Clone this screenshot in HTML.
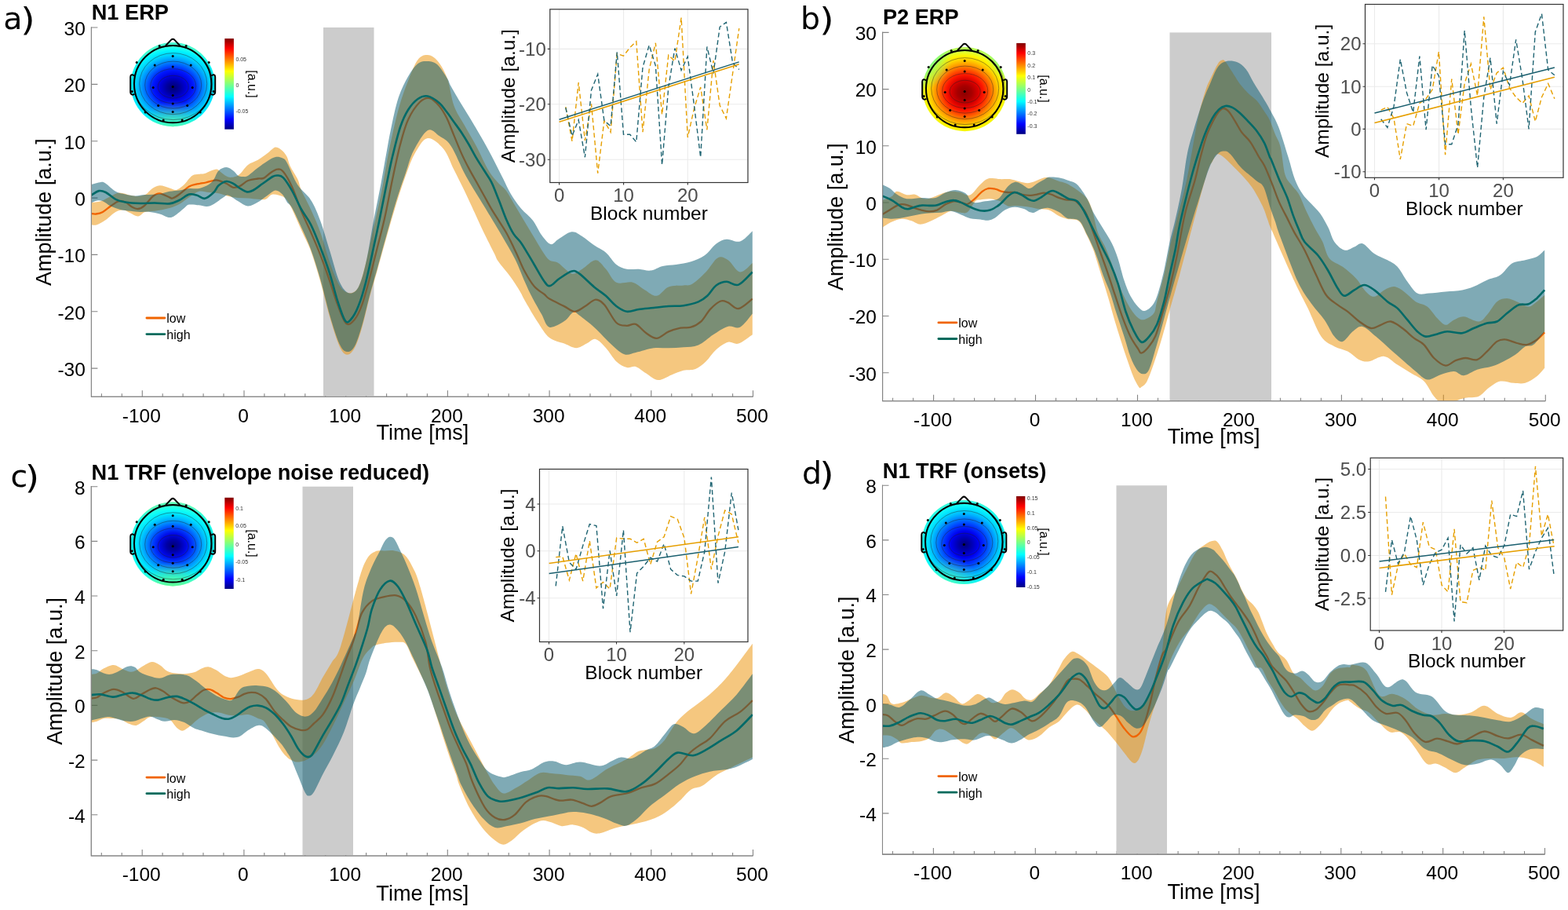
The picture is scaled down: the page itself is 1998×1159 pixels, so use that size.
<!DOCTYPE html><html><head><meta charset="utf-8"><title>ERP/TRF figure</title><style>html,body{margin:0;padding:0;background:#fff;}svg{display:block;}</style></head><body>
<svg width="1998" height="1159" viewBox="0 0 1998 1159" font-family='"Liberation Sans", Arial, Helvetica, sans-serif'>
<defs>
<linearGradient id="jet" x1="0" y1="0" x2="0" y2="1"><stop offset="0" stop-color="#800000"/><stop offset="0.11" stop-color="#ff0000"/><stop offset="0.36" stop-color="#ffff00"/><stop offset="0.5" stop-color="#80ff80"/><stop offset="0.64" stop-color="#00ffff"/><stop offset="0.89" stop-color="#0000ff"/><stop offset="1" stop-color="#000080"/></linearGradient>
<radialGradient id="tga" gradientUnits="userSpaceOnUse" cx="220.7" cy="111.6" r="56" gradientTransform="translate(220.7 111.6) scale(1.10 0.95) translate(-220.7 -111.6)"><stop offset="0" stop-color="#000070"/><stop offset="0.14" stop-color="#0000a0"/><stop offset="0.28" stop-color="#0000dc"/><stop offset="0.42" stop-color="#0018ff"/><stop offset="0.55" stop-color="#0060ff"/><stop offset="0.67" stop-color="#00a0ff"/><stop offset="0.78" stop-color="#00d4ff"/><stop offset="0.88" stop-color="#00f4ff"/><stop offset="0.95" stop-color="#20ffee"/><stop offset="1" stop-color="#48ffd0"/></radialGradient>
<radialGradient id="ova" gradientUnits="userSpaceOnUse" cx="220.2" cy="169.6" r="42"><stop offset="0" stop-color="#70ff90" stop-opacity="0.75"/><stop offset="0.5" stop-color="#70ff90" stop-opacity="0.45"/><stop offset="1" stop-color="#70ff90" stop-opacity="0"/></radialGradient>
<clipPath id="cpa"><circle cx="220.2" cy="107.6" r="53.6"/></clipPath>
<radialGradient id="tgb" gradientUnits="userSpaceOnUse" cx="1229.2" cy="118.1" r="56" gradientTransform="translate(1229.2 118.1) scale(1.03 0.98) translate(-1229.2 -118.1)"><stop offset="0" stop-color="#8c0000"/><stop offset="0.16" stop-color="#a80000"/><stop offset="0.3" stop-color="#d80000"/><stop offset="0.42" stop-color="#ff1800"/><stop offset="0.54" stop-color="#ff5800"/><stop offset="0.65" stop-color="#ff9800"/><stop offset="0.76" stop-color="#ffd000"/><stop offset="0.86" stop-color="#fff400"/><stop offset="0.94" stop-color="#e0ff30"/><stop offset="1" stop-color="#b8ff58"/></radialGradient>
<radialGradient id="ovb" gradientUnits="userSpaceOnUse" cx="1171.2" cy="73.6" r="42"><stop offset="0" stop-color="#60ff98" stop-opacity="0.90"/><stop offset="0.5" stop-color="#60ff98" stop-opacity="0.54"/><stop offset="1" stop-color="#60ff98" stop-opacity="0"/></radialGradient>
<clipPath id="cpb"><circle cx="1229.2" cy="113.6" r="53.6"/></clipPath>
<radialGradient id="tgc" gradientUnits="userSpaceOnUse" cx="220.7" cy="694.8" r="56" gradientTransform="translate(220.7 694.8) scale(1.10 0.95) translate(-220.7 -694.8)"><stop offset="0" stop-color="#000078"/><stop offset="0.14" stop-color="#0000a8"/><stop offset="0.28" stop-color="#0008e8"/><stop offset="0.42" stop-color="#0040ff"/><stop offset="0.55" stop-color="#0088ff"/><stop offset="0.66" stop-color="#00c0ff"/><stop offset="0.76" stop-color="#00e8ff"/><stop offset="0.86" stop-color="#10fff4"/><stop offset="0.95" stop-color="#38ffd8"/><stop offset="1" stop-color="#60ffb8"/></radialGradient>
<radialGradient id="ovc" gradientUnits="userSpaceOnUse" cx="220.2" cy="756.8" r="42"><stop offset="0" stop-color="#70ff80" stop-opacity="0.90"/><stop offset="0.5" stop-color="#70ff80" stop-opacity="0.54"/><stop offset="1" stop-color="#70ff80" stop-opacity="0"/></radialGradient>
<clipPath id="cpc"><circle cx="220.2" cy="692.8" r="53.6"/></clipPath>
<radialGradient id="tgd" gradientUnits="userSpaceOnUse" cx="1229.3" cy="693.5" r="56" gradientTransform="translate(1229.3 693.5) scale(1.05 1.00) translate(-1229.3 -693.5)"><stop offset="0" stop-color="#000078"/><stop offset="0.15" stop-color="#0000b0"/><stop offset="0.3" stop-color="#0000f0"/><stop offset="0.45" stop-color="#0038ff"/><stop offset="0.58" stop-color="#0078ff"/><stop offset="0.7" stop-color="#00b8ff"/><stop offset="0.8" stop-color="#00e0ff"/><stop offset="0.9" stop-color="#10fcf8"/><stop offset="1" stop-color="#40ffd8"/></radialGradient>
<radialGradient id="ovd" gradientUnits="userSpaceOnUse" cx="1208.3" cy="750.5" r="42"><stop offset="0" stop-color="#70ff98" stop-opacity="0.60"/><stop offset="0.5" stop-color="#70ff98" stop-opacity="0.36"/><stop offset="1" stop-color="#70ff98" stop-opacity="0"/></radialGradient>
<clipPath id="cpd"><circle cx="1228.3" cy="690.5" r="53.6"/></clipPath>
<radialGradient id="ovb2" gradientUnits="userSpaceOnUse" cx="1287.2" cy="73.6" r="30"><stop offset="0" stop-color="#60ff98" stop-opacity="0.9"/><stop offset="1" stop-color="#60ff98" stop-opacity="0"/></radialGradient>
</defs>
<rect width="1998" height="1159" fill="#fff"/>
<path d="M116.4,34.4V505.3H959.5" fill="none" stroke="#858585" stroke-width="1.05"/>
<text x="108.8" y="478.9" text-anchor="end" font-size="24.5">-30</text>
<text x="108.8" y="406.6" text-anchor="end" font-size="24.5">-20</text>
<text x="108.8" y="334.2" text-anchor="end" font-size="24.5">-10</text>
<text x="108.8" y="261.9" text-anchor="end" font-size="24.5">0</text>
<text x="108.8" y="189.5" text-anchor="end" font-size="24.5">10</text>
<text x="108.8" y="117.2" text-anchor="end" font-size="24.5">20</text>
<text x="108.8" y="44.8" text-anchor="end" font-size="24.5">30</text>
<text x="180.3" y="537.5" text-anchor="middle" font-size="24.5">-100</text>
<text x="310.0" y="537.5" text-anchor="middle" font-size="24.5">0</text>
<text x="439.7" y="537.5" text-anchor="middle" font-size="24.5">100</text>
<text x="569.4" y="537.5" text-anchor="middle" font-size="24.5">200</text>
<text x="699.1" y="537.5" text-anchor="middle" font-size="24.5">300</text>
<text x="828.8" y="537.5" text-anchor="middle" font-size="24.5">400</text>
<text x="958.5" y="537.5" text-anchor="middle" font-size="24.5">500</text>
<path d="M116.4,469.1h8M116.4,396.8h8M116.4,324.4h8M116.4,252.1h8M116.4,179.7h8M116.4,107.4h8M116.4,35.0h8M129.4,505.3v-4M155.3,505.3v-4M181.3,505.3v-8M207.2,505.3v-4M233.1,505.3v-4M259.1,505.3v-4M285.0,505.3v-4M311.0,505.3v-8M336.9,505.3v-4M362.8,505.3v-4M388.8,505.3v-4M414.7,505.3v-4M440.7,505.3v-8M466.6,505.3v-4M492.6,505.3v-4M518.5,505.3v-4M544.4,505.3v-4M570.4,505.3v-8M596.3,505.3v-4M622.3,505.3v-4M648.2,505.3v-4M674.1,505.3v-4M700.1,505.3v-8M726.0,505.3v-4M752.0,505.3v-4M777.9,505.3v-4M803.9,505.3v-4M829.8,505.3v-8M855.7,505.3v-4M881.7,505.3v-4M907.6,505.3v-4M933.6,505.3v-4M959.5,505.3v-8" stroke="#858585" stroke-width="1.1"/>
<rect x="412.0" y="35.0" width="64.5" height="469.5" fill="#cccccc"/>
<clipPath id="axa"><rect x="116.4" y="33.0" width="843.1" height="472.3"/></clipPath><g clip-path="url(#axa)">
<path d="M116.0,258.1C118.1,257.8 124.3,257.7 128.5,256.3C132.7,255.0 137.0,251.8 141.0,250.0C145.0,248.2 148.1,245.8 152.3,245.6C156.5,245.4 162.1,248.1 166.0,248.8C169.9,249.5 172.7,250.2 176.0,250.0C179.3,249.8 183.1,249.1 186.0,247.5C188.9,245.9 190.6,242.5 193.5,240.6C196.4,238.7 199.8,236.5 203.5,236.3C207.2,236.1 212.4,238.5 216.0,239.4C219.6,240.3 221.7,242.6 224.8,241.9C227.9,241.2 232.1,237.4 234.8,235.0C237.5,232.6 238.9,229.6 241.0,227.5C243.1,225.4 244.2,223.5 247.3,222.5C250.4,221.5 256.7,221.9 259.8,221.3C262.9,220.7 263.3,219.8 266.0,218.8C268.7,217.9 273.3,215.4 276.0,215.6C278.7,215.8 279.8,218.3 282.3,220.0C284.8,221.7 288.1,224.8 291.0,225.6C293.9,226.4 297.3,225.7 299.8,225.0C302.3,224.3 303.3,223.8 306.0,221.3C308.7,218.8 312.2,212.9 316.0,210.0C319.8,207.1 324.3,206.3 328.5,203.8C332.7,201.3 337.2,197.7 341.0,195.0C344.8,192.3 347.9,188.0 351.0,187.5C354.1,187.0 357.3,189.8 359.8,191.9C362.3,194.0 364.2,196.8 365.8,200.0C367.4,203.2 367.4,206.7 369.7,211.4C371.9,216.1 376.9,223.1 379.3,228.3C381.7,233.5 381.4,236.4 384.2,242.8C387.0,249.2 392.2,258.1 396.2,267.0C400.2,275.9 404.3,284.7 408.3,296.0C412.3,307.3 416.4,323.3 420.4,334.6C424.4,345.9 428.5,357.2 432.5,363.6C436.5,370.0 440.5,372.8 444.5,373.2C448.5,373.6 453.0,372.4 456.6,366.0C460.2,359.6 463.1,347.3 466.3,334.6C469.5,321.9 472.7,304.9 476.0,290.0C479.3,275.1 482.8,260.8 486.0,245.0C489.2,229.2 491.4,212.5 495.0,195.0C498.6,177.5 503.3,155.3 507.5,140.0C511.7,124.7 515.8,113.7 520.0,103.0C524.2,92.3 528.3,81.5 532.5,76.0C536.7,70.5 540.8,69.8 545.0,70.0C549.2,70.2 553.3,72.5 557.5,77.5C561.7,82.5 566.5,90.5 570.0,100.0C573.5,109.5 574.9,124.8 578.5,134.7C582.1,144.6 587.0,150.8 591.7,159.3C596.4,167.8 601.8,176.4 606.9,185.9C612.0,195.4 617.7,208.7 622.1,216.3C626.5,223.9 629.7,227.0 633.5,231.4C637.3,235.8 641.1,237.7 644.9,242.8C648.7,247.9 652.5,255.5 656.3,261.8C660.1,268.1 663.8,274.5 667.6,280.8C671.4,287.1 675.2,293.5 679.0,299.8C682.8,306.1 686.9,313.4 690.4,318.7C693.9,323.9 696.5,328.6 700.0,331.3C703.5,334.0 706.6,332.1 711.4,335.0C716.1,337.9 723.4,347.1 728.5,348.4C733.6,349.7 736.7,345.5 741.8,342.7C746.9,339.9 753.8,331.3 758.9,331.3C764.0,331.3 767.7,338.0 772.1,342.7C776.5,347.4 779.7,356.9 785.4,359.7C791.1,362.5 800.3,358.1 806.3,359.7C812.3,361.3 816.4,366.3 821.5,369.2C826.6,372.1 831.6,377.4 836.7,376.8C841.8,376.2 846.2,367.6 851.9,365.4C857.6,363.2 865.8,364.1 870.9,363.5C876.0,362.9 877.5,364.4 882.3,361.6C887.0,358.8 894.0,352.0 899.4,346.5C904.8,341.0 909.8,330.9 914.5,328.4C919.2,325.9 923.0,328.3 927.8,331.3C932.5,334.3 937.8,345.9 943.0,346.5C948.2,347.1 956.2,336.9 958.8,335.0L958.8,426.2C955.8,428.1 946.3,436.0 941.1,437.6C935.9,439.2 932.5,434.4 927.8,435.7C923.0,437.0 917.3,441.1 912.6,445.2C907.9,449.3 903.8,456.3 899.4,460.4C895.0,464.5 890.9,468.0 886.1,469.9C881.4,471.8 876.0,470.5 870.9,471.8C865.8,473.1 861.1,475.4 855.7,477.5C850.3,479.6 844.0,484.4 838.6,484.1C833.2,483.8 828.1,478.5 823.4,475.6C818.6,472.8 814.2,468.3 810.1,467.0C806.0,465.7 802.8,469.1 798.7,468.0C794.6,466.9 789.8,464.5 785.4,460.4C781.0,456.3 776.5,448.1 772.1,443.3C767.7,438.6 763.0,432.8 758.9,431.9C754.8,430.9 751.6,435.7 747.5,437.6C743.4,439.5 739.0,443.3 734.2,443.3C729.5,443.3 724.7,439.8 719.0,437.6C713.3,435.4 705.7,434.6 700.0,430.0C694.3,425.4 690.0,417.5 685.0,410.0C680.0,402.5 673.8,391.5 670.0,385.0C666.2,378.5 665.8,376.5 662.5,371.0C659.2,365.5 654.6,358.3 650.0,352.0C645.4,345.7 638.4,337.9 635.0,333.0C631.6,328.1 632.8,328.7 629.7,322.5C626.6,316.3 620.5,304.5 616.4,296.0C612.3,287.5 609.1,280.2 605.0,271.3C600.9,262.4 596.1,252.0 591.7,242.8C587.3,233.6 582.9,225.2 578.5,216.3C574.1,207.5 570.8,196.4 565.2,189.7C559.6,183.0 551.0,175.2 545.0,176.0C539.0,176.8 533.8,186.6 529.1,194.5C524.4,202.4 521.0,212.6 517.0,223.5C513.0,234.4 508.9,246.8 504.9,259.7C500.9,272.6 496.9,286.7 492.9,300.8C488.9,314.9 484.4,331.4 480.8,344.3C477.2,357.2 474.3,366.0 471.1,378.1C467.9,390.2 464.6,405.8 461.4,416.7C458.2,427.6 455.0,437.5 451.8,443.3C448.6,449.1 445.3,452.1 442.1,451.7C438.9,451.3 436.1,448.8 432.5,440.9C428.9,433.0 424.4,418.3 420.4,404.6C416.4,390.9 412.3,372.8 408.3,358.7C404.3,344.6 400.2,330.9 396.2,320.0C392.2,309.1 388.2,302.5 384.2,293.5C380.2,284.5 375.1,272.4 372.0,266.0C368.9,259.6 367.8,257.7 365.8,255.0C363.8,252.3 362.9,251.2 359.8,250.0C356.7,248.8 350.9,246.9 347.3,247.5C343.8,248.1 341.6,252.8 338.5,253.8C335.4,254.9 332.2,254.0 328.5,253.8C324.8,253.6 320.2,252.8 316.0,252.5C311.8,252.2 307.7,252.3 303.5,251.9C299.3,251.5 295.2,250.9 291.0,250.0C286.8,249.1 282.7,247.1 278.5,246.3C274.3,245.5 270.2,245.4 266.0,245.0C261.8,244.6 257.7,242.8 253.5,243.8C249.3,244.9 245.2,248.6 241.0,251.3C236.8,254.0 232.7,257.7 228.5,260.0C224.3,262.3 221.2,263.5 216.0,265.0C210.8,266.5 202.5,268.0 197.3,268.8C192.1,269.6 188.4,268.9 184.8,270.0C181.2,271.1 179.1,275.4 176.0,275.6C172.9,275.8 169.1,272.7 166.0,271.3C162.9,269.9 160.4,267.7 157.3,267.5C154.2,267.3 151.1,267.9 147.3,270.0C143.6,272.1 138.8,277.3 134.8,280.0C130.8,282.7 126.6,285.2 123.5,286.3C120.4,287.4 117.2,286.3 116.0,286.3Z" fill="rgb(235,143,0)" fill-opacity="0.5"/>
<path d="M116.0,271.9C117.0,272.0 119.8,272.8 122.3,272.5C124.8,272.2 127.9,271.7 131.0,270.0C134.1,268.3 137.7,264.8 141.0,262.5C144.3,260.2 147.9,257.1 151.0,256.3C154.1,255.5 156.9,256.2 159.8,257.5C162.7,258.8 165.8,262.4 168.5,263.8C171.2,265.2 173.3,266.4 176.0,266.0C178.7,265.6 181.7,264.0 184.8,261.3C187.9,258.6 191.7,252.5 194.8,250.0C197.9,247.5 200.0,246.1 203.5,246.3C207.0,246.5 213.3,250.3 216.0,251.3C218.7,252.3 217.7,253.1 219.8,252.5C221.9,251.9 225.0,250.0 228.5,247.5C232.0,245.0 237.2,239.7 241.0,237.5C244.8,235.3 247.4,235.2 251.0,234.4C254.6,233.6 258.8,233.3 262.3,232.5C265.9,231.7 269.6,230.2 272.3,229.8C275.0,229.4 275.8,229.1 278.5,229.8C281.2,230.5 285.4,232.3 288.5,233.8C291.6,235.3 294.4,238.3 297.3,238.8C300.2,239.3 302.9,238.4 306.0,236.9C309.1,235.4 312.2,231.6 316.0,230.0C319.8,228.4 325.2,228.0 328.5,227.5C331.8,227.0 333.3,228.2 336.0,226.9C338.7,225.7 341.9,221.9 344.8,220.0C347.7,218.1 350.8,215.8 353.5,215.6C356.2,215.4 357.9,215.1 361.0,218.8C364.1,222.5 368.2,229.6 372.1,238.0C376.0,246.4 380.2,259.7 384.2,269.4C388.2,279.1 392.2,286.8 396.2,296.0C400.2,305.2 404.3,314.4 408.3,324.9C412.3,335.3 416.8,348.2 420.4,358.7C424.0,369.2 426.6,378.8 430.0,387.7C433.4,396.6 437.3,408.7 440.9,411.9C444.5,415.1 448.4,411.0 451.8,407.0C455.2,403.0 458.2,396.6 461.4,387.7C464.6,378.8 467.9,366.0 471.1,353.9C474.3,341.8 477.6,328.2 480.8,315.3C484.0,302.4 487.2,291.1 490.4,276.6C493.6,262.1 496.9,243.6 500.1,228.3C503.3,213.0 506.5,197.4 509.8,184.8C513.1,172.2 515.8,161.6 520.0,152.5C524.2,143.4 530.4,134.6 535.0,130.0C539.6,125.4 543.4,124.2 547.5,125.0C551.6,125.8 555.9,130.6 559.5,134.7C563.1,138.8 565.8,143.5 569.0,149.8C572.2,156.1 575.3,165.0 578.5,172.6C581.7,180.2 584.9,188.4 588.0,195.4C591.1,202.4 594.2,208.4 597.4,214.4C600.5,220.4 603.7,225.7 606.9,231.4C610.1,237.1 613.2,242.8 616.4,248.5C619.6,254.2 622.7,260.2 625.9,265.6C629.1,271.0 632.2,275.7 635.4,280.8C638.6,285.9 641.7,290.3 644.9,296.0C648.1,301.7 651.9,309.7 654.4,314.9C656.9,320.1 657.6,321.8 660.0,327.0C662.4,332.2 665.2,339.7 668.8,346.0C672.2,352.3 676.8,360.2 681.0,365.0C685.2,369.8 690.6,372.4 693.8,375.0C696.9,377.6 695.8,378.1 700.0,380.6C704.2,383.1 713.6,387.4 719.0,390.1C724.4,392.8 727.9,396.8 732.3,396.8C736.7,396.8 741.2,392.6 745.6,390.1C750.0,387.6 754.8,381.9 758.9,381.6C763.0,381.3 765.8,383.3 770.2,388.2C774.6,393.1 780.6,406.6 785.4,411.0C790.1,415.4 794.6,414.5 798.7,414.8C802.8,415.1 806.0,411.3 810.1,412.9C814.2,414.5 819.0,421.3 823.4,424.3C827.8,427.3 832.0,431.2 836.7,430.9C841.5,430.6 846.8,424.6 851.9,422.4C857.0,420.2 862.4,418.6 867.1,417.6C871.9,416.7 876.0,418.1 880.4,416.7C884.8,415.3 889.6,412.9 893.7,409.1C897.8,405.3 900.9,398.2 905.0,393.9C909.1,389.6 914.5,384.9 918.3,383.5C922.1,382.1 924.0,383.8 927.8,385.4C931.6,387.0 935.9,393.8 941.1,393.0C946.3,392.2 955.8,382.7 958.8,380.6" fill="none" stroke="#f06400" stroke-width="2.3" stroke-linejoin="round"/>
<path d="M116.0,235.0C118.1,234.5 125.4,232.1 128.5,231.9C131.6,231.7 131.7,231.8 134.8,233.8C137.9,235.8 143.1,241.5 147.3,243.8C151.5,246.1 155.6,246.6 159.8,247.5C164.0,248.4 168.1,249.3 172.3,249.4C176.5,249.5 179.6,248.5 184.8,248.1C190.0,247.7 198.3,247.6 203.5,246.9C208.7,246.2 211.8,244.5 216.0,243.8C220.2,243.1 224.3,243.1 228.5,242.5C232.7,241.9 236.8,240.4 241.0,240.0C245.2,239.6 249.3,240.8 253.5,240.0C257.7,239.2 262.9,236.9 266.0,235.0C269.1,233.1 270.2,231.7 272.3,228.8C274.4,225.9 275.8,220.1 278.5,217.5C281.2,214.9 285.4,213.1 288.5,213.1C291.6,213.1 294.8,215.7 297.3,217.5C299.8,219.3 301.4,222.6 303.5,223.8C305.6,225.1 307.7,225.0 309.8,225.0C311.9,225.0 312.9,225.7 316.0,223.8C319.1,221.9 324.3,216.9 328.5,213.8C332.7,210.7 337.2,207.3 341.0,205.0C344.8,202.7 347.9,200.6 351.0,200.0C354.1,199.4 357.3,200.1 359.8,201.3C362.3,202.6 362.6,201.8 365.8,207.5C369.1,213.2 374.2,227.7 379.3,235.6C384.4,243.5 391.4,247.3 396.2,254.9C401.0,262.5 404.3,270.5 408.3,281.4C412.3,292.3 416.4,307.2 420.4,320.1C424.4,333.0 428.5,349.9 432.5,358.7C436.5,367.5 440.5,372.0 444.5,373.2C448.5,374.4 453.0,372.4 456.6,366.0C460.2,359.6 463.1,348.7 466.3,334.6C469.5,320.5 472.8,298.3 476.0,281.4C479.2,264.5 482.8,248.0 485.6,233.1C488.4,218.2 490.8,203.4 492.9,192.1C495.0,180.8 495.6,176.2 498.0,165.0C500.4,153.8 503.8,136.2 507.5,125.0C511.2,113.8 515.8,104.8 520.0,97.5C524.2,90.2 528.3,84.2 532.5,81.0C536.7,77.8 540.8,77.8 545.0,78.0C549.2,78.2 553.3,78.8 557.5,82.5C561.7,86.2 567.1,95.4 570.0,100.0C572.9,104.6 571.7,104.5 574.7,110.0C577.7,115.5 583.3,124.9 588.0,132.8C592.7,140.7 598.4,149.5 603.1,157.4C607.8,165.3 612.0,172.3 616.4,180.2C620.8,188.1 625.6,197.0 629.7,204.9C633.8,212.8 637.6,220.7 641.1,227.6C644.6,234.5 646.8,240.3 650.6,246.6C654.4,252.9 659.2,259.9 663.9,265.6C668.6,271.3 674.6,275.1 679.0,280.8C683.4,286.5 686.6,294.8 690.4,299.8C694.2,304.9 698.3,310.3 701.8,311.1C705.3,311.9 706.9,307.4 711.4,304.7C715.9,302.0 723.4,295.8 728.5,295.2C733.6,294.6 737.0,298.0 741.8,300.9C746.5,303.8 752.0,308.8 757.0,312.3C762.0,315.8 767.4,317.7 772.1,321.8C776.8,325.9 781.0,333.5 785.4,337.0C789.8,340.5 794.0,341.8 798.7,342.7C803.5,343.6 808.8,342.4 813.9,342.7C819.0,343.0 824.0,345.2 829.1,344.6C834.2,344.0 838.9,340.2 844.3,338.9C849.7,337.6 855.4,337.9 861.4,337.0C867.4,336.1 874.4,335.1 880.4,333.2C886.4,331.3 892.1,329.4 897.5,325.6C902.9,321.8 907.9,313.9 912.6,310.4C917.3,306.9 920.8,305.2 925.9,304.7C931.0,304.2 937.5,309.2 943.0,307.5C948.5,305.8 956.2,296.4 958.8,294.2L958.8,399.6C956.2,402.5 948.2,414.0 943.0,416.7C937.8,419.4 933.5,414.1 927.8,415.7C922.1,417.3 915.1,422.2 908.8,426.2C902.5,430.2 896.2,436.8 889.9,439.5C883.6,442.2 877.2,441.7 870.9,442.3C864.6,442.9 858.2,443.1 851.9,443.3C845.6,443.5 839.9,442.4 832.9,443.3C825.9,444.2 816.4,447.7 810.1,449.0C803.8,450.3 800.6,453.1 794.9,450.9C789.2,448.7 782.2,441.4 775.9,435.7C769.6,430.0 763.3,422.4 757.0,416.7C750.7,411.0 742.4,404.7 738.0,401.5C733.6,398.3 733.6,396.4 730.4,397.7C727.2,399.0 724.1,405.9 719.0,409.1C713.9,412.3 704.8,418.2 700.0,416.7C695.2,415.2 693.8,406.5 690.0,400.0C686.2,393.5 681.0,384.3 677.5,377.5C674.0,370.7 672.3,366.9 668.8,359.0C665.2,351.1 661.2,339.9 656.3,330.0C651.4,320.1 645.9,311.2 639.2,299.8C632.6,288.4 624.0,274.4 616.4,261.8C608.8,249.2 600.5,236.6 593.6,223.9C586.7,211.2 580.3,194.3 574.7,185.9C569.1,177.5 565.0,176.6 560.0,173.3C555.0,170.0 550.5,162.9 545.0,166.0C539.5,169.1 531.7,183.0 527.0,192.0C522.3,201.0 520.7,209.3 517.0,220.0C513.3,230.7 508.9,243.0 504.9,256.0C500.9,269.0 496.9,283.7 492.9,298.0C488.9,312.3 484.4,329.0 480.8,342.0C477.2,355.0 474.3,364.0 471.1,376.0C467.9,388.0 464.6,403.2 461.4,414.0C458.2,424.8 455.0,435.3 451.8,441.0C448.6,446.7 445.3,448.5 442.1,448.0C438.9,447.5 436.1,445.7 432.5,438.0C428.9,430.3 424.4,415.7 420.4,402.0C416.4,388.3 412.3,370.0 408.3,356.0C404.3,342.0 400.2,329.0 396.2,318.0C392.2,307.0 388.2,298.9 384.2,290.0C380.2,281.1 375.1,269.9 372.0,264.5C368.9,259.1 367.8,260.3 365.8,257.5C363.8,254.7 362.3,250.0 359.8,247.5C357.3,245.0 354.1,242.3 351.0,242.5C347.9,242.7 344.8,246.3 341.0,248.8C337.2,251.3 332.7,255.2 328.5,257.5C324.3,259.8 320.2,262.7 316.0,262.5C311.8,262.3 307.7,258.6 303.5,256.3C299.3,254.0 294.1,249.6 291.0,248.8C287.9,248.0 287.9,249.4 284.8,251.3C281.7,253.2 275.9,258.0 272.3,260.0C268.8,262.0 266.6,262.9 263.5,263.1C260.4,263.3 257.2,261.7 253.5,261.3C249.8,260.9 244.1,260.0 241.0,260.6C237.9,261.2 237.9,262.6 234.8,265.0C231.7,267.4 225.6,273.0 222.3,275.0C219.0,277.0 217.9,277.3 214.8,276.9C211.7,276.5 207.5,273.6 203.5,272.5C199.5,271.4 195.2,270.4 191.0,270.0C186.8,269.6 182.7,270.2 178.5,270.0C174.3,269.8 170.2,269.3 166.0,268.8C161.8,268.3 157.7,268.1 153.5,267.0C149.3,265.9 144.8,264.3 141.0,262.5C137.2,260.7 133.9,257.4 131.0,256.3C128.1,255.2 126.0,255.2 123.5,255.6C121.0,256.0 117.2,258.3 116.0,258.8Z" fill="rgb(0,85,107)" fill-opacity="0.5"/>
<path d="M116.0,248.8C117.7,247.9 122.9,243.7 126.0,243.1C129.1,242.5 131.2,243.2 134.8,245.0C138.4,246.8 143.1,251.7 147.3,253.8C151.5,255.9 154.6,256.6 159.8,257.5C165.0,258.4 172.2,258.8 178.5,259.0C184.8,259.2 191.1,258.4 197.3,258.5C203.6,258.6 210.8,260.0 216.0,259.4C221.2,258.8 224.3,257.0 228.5,255.0C232.7,253.0 237.2,248.5 241.0,247.5C244.8,246.5 247.7,247.9 251.0,248.8C254.3,249.7 257.4,253.4 261.0,252.8C264.6,252.2 269.4,247.8 272.3,245.0C275.2,242.2 275.8,238.6 278.5,236.3C281.2,234.0 285.4,231.4 288.5,231.0C291.6,230.6 294.4,232.3 297.3,233.8C300.2,235.3 303.1,238.2 306.0,240.0C308.9,241.8 312.1,244.0 314.8,244.4C317.5,244.8 319.0,244.3 322.3,242.5C325.6,240.7 330.6,236.7 334.8,233.8C339.0,230.9 344.2,226.7 347.3,225.0C350.4,223.3 351.2,223.3 353.5,223.5C355.8,223.7 357.9,223.1 361.0,226.3C364.1,229.5 368.2,236.0 372.1,242.8C376.0,249.6 380.2,259.8 384.2,267.0C388.2,274.2 392.2,278.2 396.2,286.3C400.2,294.4 404.3,304.8 408.3,315.3C412.3,325.8 416.8,337.8 420.4,349.1C424.0,360.4 426.8,373.0 430.0,382.9C433.2,392.8 436.9,404.3 439.7,408.3C442.5,412.3 444.2,410.0 447.0,407.0C449.8,404.0 453.4,398.2 456.6,390.1C459.8,382.1 463.1,371.2 466.3,358.7C469.5,346.2 473.2,328.2 476.0,315.3C478.8,302.4 480.4,295.1 483.2,281.4C486.0,267.7 490.1,246.8 492.9,233.1C495.7,219.4 497.2,211.2 500.1,199.3C503.0,187.5 506.7,171.9 510.0,162.0C513.3,152.1 516.2,146.0 520.0,140.0C523.8,134.0 528.3,128.9 532.5,126.0C536.7,123.1 540.5,121.7 545.0,122.5C549.5,123.3 555.5,127.6 559.5,130.9C563.5,134.2 565.8,138.2 569.0,142.3C572.2,146.4 575.3,151.1 578.5,155.5C581.7,159.9 584.9,164.1 588.0,168.8C591.1,173.6 594.2,178.6 597.4,184.0C600.5,189.4 603.7,195.7 606.9,201.1C610.1,206.5 613.2,211.2 616.4,216.3C619.6,221.4 622.7,225.1 625.9,231.4C629.1,237.7 632.2,246.3 635.4,254.2C638.6,262.1 641.7,271.6 644.9,278.9C648.1,286.2 651.2,292.8 654.4,297.9C657.6,302.9 660.8,304.8 663.9,309.2C667.0,313.6 670.4,319.7 673.3,324.4C676.1,329.1 677.6,331.8 681.0,337.5C684.4,343.2 690.4,354.3 693.8,358.8C697.1,363.2 697.9,364.6 701.0,364.0C704.1,363.4 707.9,358.1 712.5,355.0C717.1,351.9 724.2,346.6 728.5,345.5C732.8,344.4 733.2,345.1 738.0,348.4C742.8,351.7 751.3,360.7 757.0,365.4C762.7,370.1 767.3,372.7 772.0,376.8C776.7,380.9 780.9,386.7 785.4,390.0C789.9,393.3 794.0,396.1 798.7,396.8C803.5,397.5 808.2,394.8 813.9,394.0C819.6,393.2 826.6,392.7 832.9,392.0C839.2,391.3 845.6,390.5 851.9,390.0C858.2,389.5 864.6,390.1 870.9,389.2C877.2,388.3 884.8,386.5 889.9,384.4C895.0,382.3 897.5,380.3 901.3,376.8C905.1,373.3 908.5,366.5 912.6,363.5C916.7,360.5 921.1,358.9 925.9,358.8C930.6,358.7 935.6,364.7 941.1,362.6C946.6,360.6 955.8,349.2 958.8,346.5" fill="none" stroke="#006a68" stroke-width="2.6" stroke-linejoin="round"/>
</g>
<path d="M116.4,34.4V505.3H959.5" fill="none" stroke="#858585" stroke-width="1.05"/>
<text x="4.3" y="37.0" font-family="DejaVu Sans, sans-serif" font-size="39.5">a</text>
<text transform="translate(26.3,38.8) scale(1.15,1)" font-family="DejaVu Sans, sans-serif" font-size="41">)</text>
<text x="116.7" y="25.2" font-weight="bold" font-size="27.2">N1 ERP</text>
<text x="538.4" y="559.5" text-anchor="middle" font-size="27.1">Time [ms]</text>
<text transform="translate(65.3,270.1) rotate(-90)" text-anchor="middle" font-size="27">Amplitude [a.u.]</text>
<path d="M186.9,405.0h23" stroke="#f06400" stroke-width="2.8" stroke-linecap="round"/>
<path d="M186.9,425.6h23" stroke="#006a5c" stroke-width="2.8" stroke-linecap="round"/>
<text x="212.3" y="411.4" font-size="16">low</text>
<text x="212.3" y="432.0" font-size="16">high</text>
<circle cx="220.2" cy="107.6" r="53.6" fill="url(#tga)"/><circle cx="220.2" cy="107.6" r="53.6" fill="url(#ova)"/><g clip-path="url(#cpa)" fill="none" stroke="#222" stroke-opacity="0.55" stroke-width="0.8"><ellipse cx="220.7" cy="110.6" rx="19.5" ry="14.3"/><ellipse cx="220.7" cy="109.6" rx="29.0" ry="22.0"/><ellipse cx="220.7" cy="108.1" rx="36.0" ry="30.0"/><ellipse cx="220.7" cy="106.6" rx="43.0" ry="39.0"/><ellipse cx="220.7" cy="105.6" rx="50.5" ry="47.0"/></g><g fill="none" stroke="#000" stroke-width="2.0" stroke-linejoin="round"><circle cx="220.2" cy="107.1" r="49.2"/><path d="M211.0,58.2 L218.2,50.6 Q220.2,48.8 222.2,50.6 L229.4,58.2"/><path d="M171.2,96.6 C168.7,94.1 166.2,95.1 166.2,98.1 L166.2,116.6 C166.0,120.6 169.4,121.6 171.4,119.6"/><path d="M269.2,96.6 C271.7,94.1 274.2,95.1 274.2,98.1 L274.2,116.6 C274.4,120.6 271.0,121.6 269.0,119.6"/></g><g fill="#000"><circle cx="220.2" cy="71.6" r="1.5"/><circle cx="197.2" cy="83.1" r="1.5"/><circle cx="243.2" cy="83.1" r="1.5"/><circle cx="220.2" cy="85.1" r="1.5"/><circle cx="174.2" cy="79.6" r="1.5"/><circle cx="266.2" cy="79.6" r="1.5"/><circle cx="203.2" cy="58.6" r="1.5"/><circle cx="237.2" cy="58.6" r="1.5"/><circle cx="195.2" cy="111.6" r="1.5"/><circle cx="245.2" cy="111.6" r="1.5"/><circle cx="220.2" cy="110.6" r="1.5"/><circle cx="220.2" cy="121.6" r="1.5"/><circle cx="201.7" cy="134.6" r="1.5"/><circle cx="238.7" cy="134.6" r="1.5"/><circle cx="220.2" cy="132.1" r="1.5"/><circle cx="220.2" cy="142.6" r="1.5"/><circle cx="185.2" cy="142.9" r="1.5"/><circle cx="255.2" cy="142.9" r="1.5"/><circle cx="208.2" cy="153.1" r="1.5"/><circle cx="232.2" cy="153.1" r="1.5"/><circle cx="168.2" cy="116.6" r="1.5"/><circle cx="272.2" cy="116.6" r="1.5"/></g><rect x="286.3" y="49.1" width="11.6" height="115.6" fill="url(#jet)"/><g font-size="7" fill="#333"><text x="300.4" y="77.5">0.05</text><text x="300.4" y="110.5">0</text><text x="300.4" y="143.5">-0.05</text></g><text transform="translate(316.1,107.0) rotate(90)" text-anchor="middle" font-size="16">[a.u.]</text>
<rect x="700.8" y="11.8" width="252.2" height="220.7" fill="#fff"/><path d="M712.6,11.8V232.5M794.6,11.8V232.5M876.3,11.8V232.5M700.8,62.4H953.0M700.8,132.7H953.0M700.8,203.2H953.0" stroke="#ebebeb" stroke-width="1.1"/><path d="M720.8,136.2 L729.0,179.9 L737.2,105.1 L745.4,178.9 L753.5,132.3 L761.7,220.7 L769.9,153.7 L778.1,168.3 L786.3,68.3 L794.5,71.2 L802.7,60.5 L810.8,52.7 L819.0,168.3 L827.2,88.6 L835.4,54.7 L843.6,145.9 L851.8,70.2 L859.9,78.0 L868.1,22.6 L876.3,175.0 L884.5,138.2 L892.7,111.0 L900.9,165.3 L909.0,77.0 L917.2,134.3 L925.4,150.8 L933.6,93.5 L941.8,36.2" fill="none" stroke="#e69f00" stroke-width="1.4" stroke-dasharray="6,3.6"/><path d="M720.8,137.2 L729.0,173.1 L737.2,152.7 L745.4,200.3 L753.5,114.9 L761.7,94.5 L769.9,153.7 L778.1,160.5 L786.3,66.3 L794.5,171.2 L802.7,171.2 L810.8,180.9 L819.0,85.7 L827.2,57.6 L835.4,83.8 L843.6,210.0 L851.8,111.0 L859.9,61.5 L868.1,89.6 L876.3,72.1 L884.5,134.3 L892.7,200.3 L900.9,59.5 L909.0,93.5 L917.2,34.3 L925.4,28.4 L933.6,79.9 L941.8,88.6" fill="none" stroke="#1f6472" stroke-width="1.4" stroke-dasharray="6,3.6"/><path d="M712.6,155.2 L941.7,81.8" stroke="#e69f00" stroke-width="1.5"/><path d="M712.6,152.3 L941.7,78.9" stroke="#1a5f6e" stroke-width="1.5"/><rect x="700.8" y="11.8" width="252.2" height="220.7" fill="none" stroke="#333" stroke-width="1.2"/><path d="M712.6,232.5v3M794.6,232.5v3M876.3,232.5v3M700.8,62.4h-3M700.8,132.7h-3M700.8,203.2h-3" stroke="#333" stroke-width="1.1"/><g font-size="24" fill="#4d4d4d"><text x="712.6" y="257.0" text-anchor="middle">0</text><text x="794.6" y="257.0" text-anchor="middle">10</text><text x="876.3" y="257.0" text-anchor="middle">20</text><text x="695.8" y="71.0" text-anchor="end">-10</text><text x="695.8" y="141.3" text-anchor="end">-20</text><text x="695.8" y="211.8" text-anchor="end">-30</text></g><text x="826.9" y="279.8" text-anchor="middle" font-size="24.5">Block number</text><text transform="translate(655.5,122.2) rotate(-90)" text-anchor="middle" font-size="24.5">Amplitude [a.u.]</text>
<path d="M1124.6,40.8V510.8H1969.3" fill="none" stroke="#858585" stroke-width="1.05"/>
<text x="1117.0" y="484.5" text-anchor="end" font-size="24.5">-30</text>
<text x="1117.0" y="412.3" text-anchor="end" font-size="24.5">-20</text>
<text x="1117.0" y="340.1" text-anchor="end" font-size="24.5">-10</text>
<text x="1117.0" y="267.8" text-anchor="end" font-size="24.5">0</text>
<text x="1117.0" y="195.6" text-anchor="end" font-size="24.5">10</text>
<text x="1117.0" y="123.4" text-anchor="end" font-size="24.5">20</text>
<text x="1117.0" y="51.2" text-anchor="end" font-size="24.5">30</text>
<text x="1188.6" y="543.0" text-anchor="middle" font-size="24.5">-100</text>
<text x="1318.5" y="543.0" text-anchor="middle" font-size="24.5">0</text>
<text x="1448.5" y="543.0" text-anchor="middle" font-size="24.5">100</text>
<text x="1578.4" y="543.0" text-anchor="middle" font-size="24.5">200</text>
<text x="1708.4" y="543.0" text-anchor="middle" font-size="24.5">300</text>
<text x="1838.3" y="543.0" text-anchor="middle" font-size="24.5">400</text>
<text x="1968.3" y="543.0" text-anchor="middle" font-size="24.5">500</text>
<path d="M1124.6,474.7h8M1124.6,402.5h8M1124.6,330.3h8M1124.6,258.0h8M1124.6,185.8h8M1124.6,113.6h8M1124.6,41.4h8M1137.6,510.8v-4M1163.6,510.8v-4M1189.6,510.8v-8M1215.6,510.8v-4M1241.6,510.8v-4M1267.5,510.8v-4M1293.5,510.8v-4M1319.5,510.8v-8M1345.5,510.8v-4M1371.5,510.8v-4M1397.5,510.8v-4M1423.5,510.8v-4M1449.5,510.8v-8M1475.5,510.8v-4M1501.5,510.8v-4M1527.5,510.8v-4M1553.4,510.8v-4M1579.4,510.8v-8M1605.4,510.8v-4M1631.4,510.8v-4M1657.4,510.8v-4M1683.4,510.8v-4M1709.4,510.8v-8M1735.4,510.8v-4M1761.4,510.8v-4M1787.4,510.8v-4M1813.4,510.8v-4M1839.3,510.8v-8M1865.3,510.8v-4M1891.3,510.8v-4M1917.3,510.8v-4M1943.3,510.8v-4M1969.3,510.8v-8" stroke="#858585" stroke-width="1.1"/>
<rect x="1490.5" y="41.4" width="129.5" height="468.6" fill="#cccccc"/>
<clipPath id="axb"><rect x="1124.6" y="39.4" width="844.7" height="471.4"/></clipPath><g clip-path="url(#axb)">
<path d="M1124.0,255.1C1126.1,254.2 1133.4,251.9 1136.5,250.0C1139.6,248.2 1139.6,244.1 1142.8,243.8C1145.9,243.5 1151.5,247.5 1155.3,248.2C1159.0,248.8 1162.2,246.9 1165.3,247.5C1168.4,248.2 1171.5,251.0 1174.1,251.9C1176.6,252.9 1178.2,253.2 1180.3,253.2C1182.4,253.2 1183.4,253.0 1186.6,251.9C1189.7,250.9 1194.9,248.3 1199.1,246.9C1203.2,245.6 1207.4,244.1 1211.6,243.8C1215.8,243.5 1220.6,244.2 1224.1,245.0C1227.6,245.9 1230.4,248.6 1232.9,248.8C1235.4,249.0 1236.4,248.6 1239.1,246.3C1241.8,244.0 1245.8,238.2 1249.1,235.0C1252.5,231.9 1255.0,228.7 1259.1,227.5C1263.3,226.4 1269.6,228.0 1274.2,228.1C1278.7,228.3 1282.5,227.6 1286.7,228.1C1290.8,228.7 1295.4,230.4 1299.2,231.3C1302.9,232.1 1306.1,233.2 1309.2,233.2C1312.3,233.2 1314.4,232.4 1317.9,231.3C1321.5,230.1 1326.9,227.0 1330.5,226.3C1334.0,225.5 1336.1,226.2 1339.2,226.9C1342.3,227.6 1345.5,229.3 1349.2,230.7C1353.0,232.0 1356.2,231.8 1361.7,235.0C1367.3,238.3 1377.6,244.9 1382.5,250.1C1387.4,255.3 1388.6,258.7 1391.3,266.3C1394.0,274.0 1395.9,287.6 1398.8,295.8C1401.7,304.0 1405.4,308.0 1408.7,315.6C1412.0,323.2 1415.4,332.5 1418.7,341.4C1422.0,350.3 1425.0,360.6 1428.6,369.2C1432.2,377.8 1436.9,387.1 1440.5,393.0C1444.1,398.9 1447.4,402.6 1450.4,404.9C1453.4,407.2 1455.0,407.9 1458.3,406.9C1461.6,405.9 1467.5,402.8 1470.2,399.0C1472.9,395.2 1472.0,392.4 1474.2,384.2C1476.4,376.0 1480.5,361.3 1483.3,349.8C1486.0,338.3 1487.7,327.4 1490.5,315.4C1493.3,303.3 1496.3,292.1 1500.0,277.5C1503.7,262.9 1508.1,248.3 1512.5,227.5C1516.9,206.7 1522.3,171.2 1526.2,152.5C1530.2,133.8 1533.4,124.1 1536.2,115.0C1539.1,105.9 1540.9,103.6 1543.5,98.0C1546.1,92.4 1549.5,85.0 1551.8,81.4C1554.1,77.8 1555.7,77.1 1557.3,76.6C1558.9,76.1 1559.3,76.2 1561.4,78.6C1563.5,81.0 1566.7,86.5 1569.7,91.1C1572.7,95.7 1576.0,101.7 1579.4,106.3C1582.9,110.9 1586.7,115.0 1590.4,118.7C1594.1,122.4 1598.0,124.4 1601.5,128.3C1605.0,132.2 1608.3,137.9 1611.1,142.1C1613.8,146.2 1615.7,148.4 1618.0,153.2C1620.3,158.0 1622.6,165.3 1624.9,171.1C1627.2,176.8 1629.7,179.1 1631.8,187.7C1633.9,196.3 1635.1,214.4 1637.5,222.6C1640.0,230.7 1643.4,232.1 1646.3,236.3C1649.2,240.5 1651.9,241.9 1655.1,247.6C1658.2,253.2 1661.7,263.0 1665.1,270.1C1668.4,277.2 1671.7,283.9 1675.1,290.1C1678.4,296.4 1681.9,301.1 1685.1,307.6C1688.2,314.2 1689.7,323.8 1694.0,329.2C1698.3,334.6 1705.3,335.5 1710.9,339.8C1716.5,344.0 1722.9,349.3 1727.8,354.6C1732.8,359.9 1736.6,367.6 1740.5,371.5C1744.4,375.4 1747.2,378.2 1751.1,377.8C1755.0,377.5 1759.5,371.5 1763.8,369.4C1768.0,367.3 1772.2,364.8 1776.4,365.1C1780.7,365.5 1784.6,368.3 1789.1,371.5C1793.7,374.7 1799.0,381.0 1803.9,384.2C1808.9,387.3 1814.2,387.0 1818.7,390.5C1823.3,394.0 1827.5,401.4 1831.4,405.3C1835.3,409.2 1838.5,413.4 1842.0,413.8C1845.5,414.1 1848.7,409.2 1852.6,407.4C1856.4,405.7 1860.0,402.8 1865.2,403.2C1870.5,403.5 1879.3,409.9 1884.3,409.5C1889.2,409.2 1891.0,405.3 1894.8,401.1C1898.7,396.8 1903.3,387.7 1907.5,384.2C1911.8,380.6 1916.0,379.9 1920.2,379.9C1924.4,379.9 1928.3,382.4 1932.9,384.2C1937.5,385.9 1943.5,390.5 1947.7,390.5C1951.9,390.5 1954.8,386.6 1958.3,384.2C1961.7,381.7 1966.5,377.1 1968.2,375.7L1968.2,468.7C1966.5,470.5 1962.4,476.1 1958.3,479.3C1954.1,482.5 1948.4,486.3 1943.5,487.8C1938.5,489.2 1934.0,488.1 1928.7,487.8C1923.4,487.4 1917.0,484.6 1911.8,485.6C1906.5,486.7 1901.5,490.9 1897.0,494.1C1892.4,497.3 1889.2,502.6 1884.3,504.7C1879.3,506.8 1872.6,505.7 1867.4,506.8C1862.1,507.8 1857.5,510.0 1852.6,511.0C1847.6,512.1 1842.0,514.2 1837.8,513.1C1833.5,512.1 1831.1,509.3 1827.2,504.7C1823.3,500.1 1819.4,490.6 1814.5,485.6C1809.6,480.7 1803.2,478.6 1797.6,475.1C1792.0,471.6 1786.3,468.0 1780.7,464.5C1775.0,461.0 1769.8,454.6 1763.8,453.9C1757.8,453.2 1750.0,459.6 1744.7,460.3C1739.5,461.0 1736.6,460.3 1732.1,458.2C1727.5,456.0 1722.5,450.4 1717.3,447.6C1712.0,444.8 1706.0,444.4 1700.3,441.2C1694.7,438.1 1689.1,436.7 1683.4,428.6C1677.8,420.5 1672.1,404.2 1666.5,392.6C1660.9,381.0 1657.1,375.0 1649.6,358.8C1642.1,342.5 1627.0,308.4 1621.3,295.1C1615.5,281.8 1617.1,284.3 1615.0,278.9C1612.9,273.4 1612.1,269.3 1608.8,262.5C1605.4,255.7 1600.5,245.8 1595.0,238.0C1589.5,230.2 1582.4,222.9 1575.5,216.0C1568.6,209.1 1558.5,198.4 1553.4,196.6C1548.3,194.8 1548.2,199.5 1545.2,205.0C1542.1,210.6 1542.2,205.9 1535.2,230.1C1528.2,254.2 1510.6,322.3 1503.2,349.8C1495.7,377.3 1494.1,382.1 1490.5,395.1C1486.9,408.1 1484.8,416.5 1481.4,427.7C1478.1,438.9 1473.9,452.4 1470.6,462.1C1467.3,471.8 1464.2,480.5 1461.5,485.7C1458.8,490.8 1456.0,491.6 1454.3,492.9C1452.6,494.2 1453.0,495.3 1451.4,493.2C1449.8,491.1 1446.9,486.1 1444.4,480.3C1441.9,474.5 1439.1,466.1 1436.5,458.5C1433.9,450.9 1431.2,443.0 1428.6,434.7C1425.9,426.4 1423.2,417.8 1420.6,408.9C1417.9,400.0 1415.3,390.0 1412.7,381.1C1410.1,372.2 1407.5,363.9 1404.8,355.3C1402.1,346.7 1398.8,335.8 1396.8,329.5C1394.8,323.2 1394.9,322.6 1392.9,317.6C1390.9,312.7 1387.9,305.8 1384.9,299.8C1381.9,293.9 1379.2,285.4 1375.0,281.9C1370.8,278.4 1364.3,280.1 1360.0,279.0C1355.7,277.9 1353.1,277.0 1349.2,275.1C1345.3,273.2 1340.9,269.0 1336.7,267.6C1332.5,266.1 1328.4,266.9 1324.2,266.3C1320.0,265.7 1315.4,264.4 1311.7,263.8C1307.9,263.2 1304.8,262.9 1301.7,262.6C1298.5,262.2 1295.8,261.9 1292.9,261.9C1290.0,261.9 1287.3,263.5 1284.2,262.6C1281.0,261.6 1277.9,257.9 1274.2,256.3C1270.4,254.7 1265.8,253.5 1261.6,253.2C1257.5,252.9 1252.3,253.9 1249.1,254.4C1246.0,254.9 1245.6,253.7 1242.9,256.3C1240.2,258.9 1236.0,267.7 1232.9,270.1C1229.7,272.5 1227.6,270.9 1224.1,270.7C1220.6,270.5 1215.8,268.1 1211.6,268.8C1207.4,269.5 1203.2,273.0 1199.1,275.1C1194.9,277.2 1190.9,279.6 1186.6,281.3C1182.2,283.1 1177.0,285.7 1172.8,285.7C1168.6,285.7 1165.5,282.5 1161.5,281.3C1157.6,280.2 1153.2,278.6 1149.0,278.8C1144.9,279.0 1140.7,280.7 1136.5,282.6C1132.3,284.5 1126.1,288.8 1124.0,290.1Z" fill="rgb(235,143,0)" fill-opacity="0.5"/>
<path d="M1124.0,273.2C1125.3,272.5 1128.4,270.7 1131.5,268.8C1134.6,266.9 1139.8,263.4 1142.8,261.9C1145.7,260.5 1146.7,260.2 1149.0,260.1C1151.3,260.0 1153.8,260.5 1156.5,261.3C1159.2,262.1 1162.4,263.8 1165.3,264.8C1168.2,265.9 1170.9,266.8 1174.1,267.6C1177.2,268.3 1180.7,269.4 1184.1,269.4C1187.4,269.4 1190.5,269.1 1194.1,267.6C1197.6,266.0 1201.8,261.9 1205.3,260.1C1208.9,258.2 1212.2,256.7 1215.3,256.3C1218.5,255.9 1221.4,256.9 1224.1,257.6C1226.8,258.2 1229.5,260.1 1231.6,260.1C1233.7,260.1 1234.5,259.0 1236.6,257.6C1238.7,256.1 1241.6,253.6 1244.1,251.3C1246.6,249.0 1249.1,245.7 1251.6,243.8C1254.1,241.9 1256.4,240.6 1259.1,240.0C1261.8,239.5 1265.0,240.0 1267.9,240.7C1270.8,241.3 1273.9,243.1 1276.7,243.8C1279.4,244.5 1281.4,244.8 1284.2,245.0C1286.9,245.2 1290.0,244.6 1292.9,245.0C1295.8,245.5 1298.5,246.9 1301.7,247.5C1304.8,248.2 1308.4,248.8 1311.7,248.8C1315.0,248.8 1318.6,248.1 1321.7,247.5C1324.8,247.0 1327.5,245.7 1330.5,245.7C1333.4,245.7 1336.1,246.5 1339.2,247.5C1342.3,248.6 1346.1,250.8 1349.2,251.9C1352.4,253.1 1354.9,253.9 1358.0,254.4C1361.1,254.9 1365.6,254.5 1368.0,255.1C1370.4,255.6 1370.0,255.1 1372.5,257.6C1375.0,260.1 1379.8,264.6 1382.9,270.0C1386.0,275.4 1387.9,281.9 1390.9,289.8C1393.9,297.7 1397.5,308.3 1400.8,317.6C1404.1,326.9 1407.4,335.8 1410.7,345.4C1414.0,355.0 1417.3,365.3 1420.6,375.2C1423.9,385.1 1427.3,396.0 1430.6,404.9C1433.9,413.8 1437.2,422.1 1440.5,428.7C1443.8,435.3 1448.1,441.1 1450.4,444.6C1452.7,448.1 1452.2,450.0 1454.4,449.6C1456.6,449.2 1460.3,445.8 1463.3,442.2C1466.3,438.5 1469.4,434.9 1472.4,427.7C1475.4,420.4 1478.4,409.0 1481.4,398.7C1484.5,388.4 1487.5,378.2 1490.5,366.1C1493.5,354.0 1496.3,341.9 1499.6,326.2C1502.8,310.6 1506.2,288.0 1510.0,272.0C1513.8,256.0 1519.2,242.0 1522.5,230.0C1525.8,218.0 1527.1,209.8 1529.7,200.0C1532.3,190.2 1535.2,178.9 1538.0,171.1C1540.8,163.3 1543.8,158.0 1546.3,153.2C1548.8,148.4 1551.1,144.6 1553.2,142.1C1555.3,139.6 1556.6,138.0 1558.7,138.0C1560.8,138.0 1563.1,139.3 1565.6,142.1C1568.1,144.9 1571.2,150.2 1573.9,154.6C1576.7,159.0 1578.9,164.0 1582.1,168.4C1585.3,172.8 1589.5,175.5 1593.2,180.8C1596.9,186.1 1601.2,194.9 1604.2,200.0C1607.2,205.1 1608.4,205.4 1611.3,211.3C1614.1,217.1 1618.2,227.3 1621.3,235.1C1624.4,242.8 1626.9,250.5 1630.0,257.6C1633.2,264.7 1636.9,271.4 1640.1,277.6C1643.2,283.9 1645.1,288.3 1648.8,295.1C1652.5,302.0 1657.6,309.4 1662.3,318.6C1667.0,327.8 1672.5,340.8 1677.1,350.3C1681.7,359.9 1685.2,369.4 1689.8,375.7C1694.3,382.1 1700.0,384.9 1704.6,388.4C1709.1,391.9 1712.7,393.3 1717.3,396.8C1721.8,400.4 1727.1,406.0 1732.1,409.5C1737.0,413.1 1742.3,417.3 1746.8,418.0C1751.4,418.7 1755.3,415.2 1759.5,413.8C1763.8,412.4 1767.6,408.8 1772.2,409.5C1776.8,410.2 1782.1,414.5 1787.0,418.0C1792.0,421.5 1797.2,427.2 1801.8,430.7C1806.4,434.2 1810.3,434.9 1814.5,439.1C1818.7,443.4 1822.6,451.6 1827.2,456.0C1831.8,460.5 1837.4,465.0 1842.0,465.6C1846.6,466.1 1850.4,460.8 1854.7,459.2C1858.9,457.6 1862.8,456.2 1867.4,456.0C1871.9,455.9 1877.6,459.6 1882.2,458.2C1886.7,456.8 1890.6,451.5 1894.8,447.6C1899.1,443.7 1903.7,437.4 1907.5,434.9C1911.4,432.4 1913.9,432.0 1918.1,432.4C1922.3,432.7 1928.3,435.9 1932.9,437.0C1937.5,438.1 1941.4,439.8 1945.6,439.1C1949.8,438.4 1954.5,435.4 1958.3,432.8C1962.0,430.1 1966.5,424.9 1968.2,423.3" fill="none" stroke="#f06400" stroke-width="2.3" stroke-linejoin="round"/>
<path d="M1124.0,235.0C1125.7,235.9 1130.9,237.9 1134.0,240.0C1137.1,242.1 1139.2,245.4 1142.8,247.5C1146.3,249.7 1150.1,252.4 1155.3,253.2C1160.5,253.9 1168.8,252.0 1174.1,251.9C1179.3,251.8 1183.2,252.7 1186.6,252.5C1189.9,252.4 1190.9,252.5 1194.1,251.3C1197.2,250.0 1201.4,246.6 1205.3,245.0C1209.3,243.5 1213.7,241.7 1217.8,241.9C1222.0,242.1 1227.2,244.1 1230.4,246.3C1233.5,248.5 1234.5,253.1 1236.6,255.1C1238.7,257.0 1239.7,258.0 1242.9,258.2C1246.0,258.4 1251.2,256.9 1255.4,256.3C1259.6,255.7 1264.8,255.3 1267.9,254.4C1271.0,253.6 1271.4,254.1 1274.2,251.3C1276.9,248.5 1281.0,240.8 1284.2,237.5C1287.3,234.3 1290.0,232.4 1292.9,231.9C1295.8,231.4 1298.5,233.0 1301.7,234.4C1304.8,235.8 1308.4,240.1 1311.7,240.0C1315.0,239.9 1318.6,235.7 1321.7,233.8C1324.8,231.9 1328.0,230.1 1330.5,228.8C1333.0,227.4 1333.6,226.1 1336.7,225.6C1339.8,225.2 1345.1,225.5 1349.2,226.3C1353.4,227.0 1357.9,228.6 1361.7,230.0C1365.6,231.5 1368.6,231.3 1372.5,235.1C1376.4,238.8 1381.6,246.7 1385.0,252.6C1388.4,258.4 1389.6,263.8 1392.9,270.0C1396.2,276.2 1400.8,283.2 1404.8,289.8C1408.8,296.4 1413.4,303.1 1416.7,309.7C1420.0,316.3 1422.0,321.6 1424.6,329.5C1427.2,337.4 1429.8,349.4 1432.5,357.3C1435.2,365.2 1437.5,371.5 1440.5,377.1C1443.5,382.7 1447.4,387.9 1450.4,391.0C1453.4,394.1 1455.3,396.3 1458.3,396.0C1461.3,395.7 1465.5,392.5 1468.3,389.0C1471.1,385.5 1472.5,382.6 1475.0,375.2C1477.5,367.8 1480.7,355.5 1483.3,344.3C1485.8,333.2 1488.1,318.8 1490.5,308.1C1492.9,297.4 1494.9,291.4 1497.5,280.0C1500.1,268.6 1503.4,254.2 1506.0,240.0C1508.6,225.8 1510.4,207.6 1513.0,195.0C1515.6,182.4 1518.2,175.1 1521.4,164.2C1524.6,153.3 1529.0,139.3 1532.4,129.7C1535.9,120.0 1538.9,113.7 1542.1,106.3C1545.3,98.9 1548.3,90.2 1551.8,85.5C1555.2,80.8 1558.7,79.0 1562.8,78.0C1566.9,77.0 1572.4,77.6 1576.6,79.3C1580.8,81.0 1584.2,84.0 1587.7,88.3C1591.2,92.6 1593.8,99.2 1597.3,104.9C1600.8,110.7 1605.0,117.0 1608.4,122.8C1611.9,128.6 1614.5,133.0 1618.0,139.4C1621.5,145.8 1625.2,151.4 1629.1,161.5C1633.0,171.6 1638.0,188.8 1641.5,200.0C1645.0,211.2 1647.0,220.9 1650.1,228.8C1653.2,236.7 1656.5,242.4 1660.1,247.6C1663.6,252.8 1667.6,255.9 1671.3,260.1C1675.1,264.3 1679.0,267.6 1682.6,272.6C1686.1,277.6 1689.6,284.2 1692.6,290.1C1695.6,296.0 1696.9,303.3 1700.3,308.1C1703.7,312.8 1708.8,317.6 1713.0,318.6C1717.3,319.7 1721.8,315.8 1725.7,314.4C1729.6,313.0 1732.1,308.8 1736.3,310.2C1740.5,311.6 1745.8,319.3 1751.1,322.9C1756.4,326.4 1763.1,328.5 1768.0,331.3C1772.9,334.1 1776.4,335.2 1780.7,339.8C1784.9,344.3 1789.1,353.2 1793.4,358.8C1797.6,364.4 1801.5,371.1 1806.0,373.6C1810.6,376.1 1814.9,373.9 1820.8,373.6C1826.8,373.2 1834.9,372.2 1842.0,371.5C1849.0,370.8 1857.1,370.4 1863.1,369.4C1869.1,368.3 1872.6,367.3 1877.9,365.1C1883.2,363.0 1889.2,359.1 1894.8,356.7C1900.5,354.2 1906.5,353.9 1911.8,350.3C1917.0,346.8 1921.3,338.7 1926.6,335.5C1931.8,332.4 1938.2,332.7 1943.5,331.3C1948.8,329.9 1954.1,329.2 1958.3,327.1C1962.4,325.0 1966.5,320.0 1968.2,318.6L1968.2,422.2C1965.8,425.0 1958.2,436.0 1954.0,439.1C1949.9,442.3 1947.3,439.1 1943.5,441.2C1939.6,443.4 1935.4,448.6 1930.8,451.8C1926.2,455.0 1920.9,457.8 1916.0,460.3C1911.1,462.7 1906.8,464.9 1901.2,466.6C1895.5,468.4 1888.1,468.9 1882.2,470.8C1876.2,472.8 1870.2,477.9 1865.2,478.2C1860.3,478.6 1857.5,473.1 1852.6,473.0C1847.6,472.8 1841.3,475.4 1835.6,477.2C1830.0,478.9 1824.0,484.2 1818.7,483.5C1813.4,482.8 1808.9,476.8 1803.9,473.0C1799.0,469.1 1794.4,464.9 1789.1,460.3C1783.8,455.7 1778.2,450.8 1772.2,445.5C1766.2,440.2 1759.2,433.5 1753.2,428.6C1747.2,423.6 1741.2,416.9 1736.3,415.9C1731.3,414.8 1727.8,419.0 1723.6,422.2C1719.4,425.4 1714.8,433.8 1710.9,434.9C1707.0,436.0 1704.2,433.1 1700.3,428.6C1696.5,424.0 1692.6,414.5 1687.7,407.4C1682.7,400.4 1676.4,394.4 1670.7,386.3C1665.1,378.2 1660.4,372.9 1653.8,358.8C1647.3,344.6 1636.1,314.1 1631.3,301.4C1626.5,288.7 1627.1,288.7 1625.0,282.6C1622.9,276.6 1621.3,272.5 1618.8,265.1C1616.3,257.7 1613.1,243.9 1610.0,238.0C1606.9,232.1 1605.1,233.9 1600.3,229.7C1595.5,225.5 1586.4,218.6 1581.0,213.0C1575.6,207.4 1571.2,199.7 1567.7,196.3C1564.2,192.9 1562.9,192.5 1560.2,192.5C1557.5,192.5 1554.6,192.9 1551.4,196.3C1548.3,199.6 1545.2,203.6 1541.4,212.5C1537.7,221.5 1533.1,237.1 1528.9,250.1C1524.7,263.0 1520.7,275.9 1516.4,290.1C1512.1,304.3 1507.2,321.4 1503.2,335.3C1499.2,349.2 1495.6,361.6 1492.3,373.3C1489.0,385.1 1486.3,395.1 1483.3,405.9C1480.2,416.8 1477.4,427.8 1474.2,438.6C1471.0,449.3 1467.3,464.1 1464.3,470.4C1461.3,476.7 1458.9,476.3 1456.3,476.3C1453.7,476.3 1451.0,474.0 1448.4,470.4C1445.8,466.8 1443.2,461.4 1440.5,454.5C1437.8,447.6 1435.5,437.9 1432.5,428.7C1429.5,419.4 1425.6,408.2 1422.6,399.0C1419.6,389.8 1417.3,380.8 1414.7,373.2C1412.1,365.6 1409.5,360.8 1406.7,353.3C1403.9,345.8 1400.3,334.4 1398.0,328.0C1395.7,321.6 1395.1,319.9 1392.9,315.0C1390.7,310.1 1387.9,304.2 1384.9,298.5C1381.9,292.8 1379.2,284.4 1375.0,281.0C1370.8,277.6 1364.3,279.8 1360.0,278.0C1355.7,276.2 1353.1,272.2 1349.2,270.1C1345.3,267.9 1340.5,265.7 1336.7,265.1C1333.0,264.4 1329.8,265.4 1326.7,266.3C1323.6,267.2 1320.4,270.1 1317.9,270.7C1315.4,271.3 1313.8,270.8 1311.7,270.1C1309.6,269.3 1308.6,267.4 1305.4,266.3C1302.3,265.3 1297.1,263.6 1292.9,263.8C1288.7,264.0 1284.6,265.3 1280.4,267.6C1276.2,269.9 1271.4,275.4 1267.9,277.6C1264.3,279.8 1262.3,280.4 1259.1,280.7C1256.0,281.0 1252.9,279.9 1249.1,279.4C1245.4,279.0 1240.8,279.2 1236.6,278.2C1232.4,277.2 1228.3,274.8 1224.1,273.2C1219.9,271.6 1215.8,269.2 1211.6,268.8C1207.4,268.4 1203.2,270.3 1199.1,270.7C1194.9,271.1 1190.7,271.0 1186.6,271.3C1182.4,271.6 1178.2,271.9 1174.1,272.6C1169.9,273.2 1165.7,274.2 1161.5,275.1C1157.4,275.9 1153.2,276.9 1149.0,277.6C1144.9,278.2 1140.7,278.8 1136.5,278.8C1132.3,278.8 1126.1,277.8 1124.0,277.6Z" fill="rgb(0,85,107)" fill-opacity="0.5"/>
<path d="M1124.0,249.4C1126.1,250.4 1132.3,252.7 1136.5,255.1C1140.7,257.4 1145.7,261.9 1149.0,263.8C1152.4,265.7 1153.8,266.3 1156.5,266.3C1159.2,266.3 1162.4,264.6 1165.3,263.8C1168.2,263.0 1170.5,261.9 1174.1,261.6C1177.6,261.2 1183.2,262.0 1186.6,261.9C1189.9,261.9 1190.9,262.1 1194.1,261.3C1197.2,260.5 1201.8,258.0 1205.3,256.9C1208.9,255.9 1212.2,254.9 1215.3,255.1C1218.5,255.2 1220.6,256.1 1224.1,257.6C1227.6,259.0 1232.4,262.0 1236.6,263.8C1240.8,265.6 1245.0,267.6 1249.1,268.2C1253.3,268.8 1257.5,268.9 1261.6,267.6C1265.8,266.2 1270.4,263.0 1274.2,260.1C1277.9,257.1 1281.0,252.5 1284.2,250.0C1287.3,247.5 1290.0,245.4 1292.9,245.0C1295.8,244.7 1298.5,246.6 1301.7,248.2C1304.8,249.7 1309.0,253.2 1311.7,254.4C1314.4,255.7 1315.4,256.2 1317.9,255.7C1320.4,255.2 1323.6,253.2 1326.7,251.3C1329.8,249.4 1334.0,245.8 1336.7,244.4C1339.4,243.1 1340.5,242.6 1343.0,243.2C1345.5,243.7 1348.6,245.9 1351.7,247.5C1354.9,249.2 1358.3,251.7 1361.7,253.2C1365.2,254.6 1369.2,253.5 1372.5,256.3C1375.9,259.1 1378.2,263.4 1381.9,270.0C1385.6,276.6 1391.0,288.2 1394.8,295.8C1398.6,303.4 1401.5,309.0 1404.8,315.6C1408.1,322.2 1411.4,327.9 1414.7,335.5C1418.0,343.1 1421.3,351.1 1424.6,361.3C1427.9,371.6 1431.2,387.1 1434.5,397.0C1437.8,406.9 1441.1,414.4 1444.4,420.8C1447.7,427.2 1451.1,434.4 1454.4,435.7C1457.7,437.0 1461.0,432.5 1464.3,428.7C1467.6,424.9 1471.0,420.6 1474.2,413.2C1477.4,405.8 1480.5,394.8 1483.3,384.2C1486.0,373.6 1488.1,361.0 1490.5,349.8C1492.9,338.6 1495.6,328.0 1497.8,317.2C1499.9,306.4 1500.4,299.1 1503.5,285.0C1506.6,270.9 1512.6,246.7 1516.2,232.5C1519.9,218.3 1522.3,210.2 1525.5,200.0C1528.7,189.8 1532.0,179.4 1535.2,171.1C1538.4,162.8 1541.9,155.7 1544.9,150.4C1547.9,145.1 1550.5,142.0 1553.2,139.4C1556.0,136.8 1558.7,135.5 1561.4,135.0C1564.2,134.5 1566.7,135.2 1569.7,136.6C1572.7,138.0 1576.0,140.5 1579.4,143.5C1582.9,146.5 1586.7,150.7 1590.4,154.6C1594.1,158.5 1598.0,162.4 1601.5,167.0C1605.0,171.6 1608.3,176.7 1611.1,182.2C1613.8,187.7 1616.5,196.4 1618.0,200.0C1619.5,203.6 1618.0,199.0 1620.0,203.8C1622.0,208.6 1626.7,220.9 1630.0,228.8C1633.4,236.7 1637.1,243.8 1640.1,251.3C1643.0,258.8 1645.1,267.0 1647.6,273.9C1650.1,280.7 1652.6,286.9 1655.1,292.6C1657.5,298.3 1658.3,302.7 1662.3,308.1C1666.3,313.4 1674.3,319.0 1679.2,325.0C1684.1,331.0 1687.7,336.9 1691.9,344.0C1696.1,351.0 1701.0,361.8 1704.6,367.3C1708.1,372.7 1709.5,376.4 1713.0,376.8C1716.5,377.1 1721.5,371.7 1725.7,369.4C1729.9,367.1 1734.2,363.0 1738.4,363.0C1742.6,363.0 1746.1,365.8 1751.1,369.4C1756.0,372.9 1763.1,380.3 1768.0,384.2C1772.9,388.0 1776.4,388.7 1780.7,392.6C1784.9,396.5 1789.1,402.5 1793.4,407.4C1797.6,412.4 1802.2,418.7 1806.0,422.2C1809.9,425.7 1812.4,428.0 1816.6,428.6C1820.8,429.1 1826.8,426.4 1831.4,425.4C1836.0,424.3 1838.8,422.4 1844.1,422.2C1849.4,422.0 1857.5,425.0 1863.1,424.3C1868.8,423.6 1872.6,420.1 1877.9,418.0C1883.2,415.9 1889.9,413.1 1894.8,411.6C1899.8,410.2 1903.3,411.6 1907.5,409.5C1911.8,407.4 1915.6,402.5 1920.2,399.0C1924.8,395.4 1930.4,390.3 1935.0,388.4C1939.6,386.5 1943.8,388.7 1947.7,387.3C1951.6,385.9 1954.8,382.9 1958.3,379.9C1961.7,376.9 1966.5,371.1 1968.2,369.4" fill="none" stroke="#006a68" stroke-width="2.6" stroke-linejoin="round"/>
</g>
<path d="M1124.6,40.8V510.8H1969.3" fill="none" stroke="#858585" stroke-width="1.05"/>
<text x="1020.0" y="37.0" font-family="DejaVu Sans, sans-serif" font-size="39.5">b</text>
<text transform="translate(1044.3,38.8) scale(1.15,1)" font-family="DejaVu Sans, sans-serif" font-size="41">)</text>
<text x="1124.9" y="31.2" font-weight="bold" font-size="27.2">P2 ERP</text>
<text x="1546.6" y="565.0" text-anchor="middle" font-size="27.1">Time [ms]</text>
<text transform="translate(1073.5,276.1) rotate(-90)" text-anchor="middle" font-size="27">Amplitude [a.u.]</text>
<path d="M1195.9,410.9h23" stroke="#f06400" stroke-width="2.8" stroke-linecap="round"/>
<path d="M1195.9,431.5h23" stroke="#006a5c" stroke-width="2.8" stroke-linecap="round"/>
<text x="1221.3" y="417.3" font-size="16">low</text>
<text x="1221.3" y="437.9" font-size="16">high</text>
<circle cx="1229.2" cy="113.6" r="53.6" fill="url(#tgb)"/><circle cx="1229.2" cy="113.6" r="53.6" fill="url(#ovb)"/><circle cx="1229.2" cy="113.6" r="53.6" fill="url(#ovb2)"/><g clip-path="url(#cpb)" fill="none" stroke="#222" stroke-opacity="0.55" stroke-width="0.8"><ellipse cx="1229.7" cy="116.6" rx="19.5" ry="14.3"/><ellipse cx="1229.7" cy="115.6" rx="29.0" ry="22.0"/><ellipse cx="1229.7" cy="114.1" rx="36.0" ry="30.0"/><ellipse cx="1229.7" cy="112.6" rx="43.0" ry="39.0"/><ellipse cx="1229.7" cy="111.6" rx="50.5" ry="47.0"/></g><g fill="none" stroke="#000" stroke-width="2.0" stroke-linejoin="round"><circle cx="1229.2" cy="113.1" r="49.2"/><path d="M1220.0,64.2 L1227.2,56.6 Q1229.2,54.8 1231.2,56.6 L1238.4,64.2"/><path d="M1180.2,102.6 C1177.7,100.1 1175.2,101.1 1175.2,104.1 L1175.2,122.6 C1175.0,126.6 1178.4,127.6 1180.4,125.6"/><path d="M1278.2,102.6 C1280.7,100.1 1283.2,101.1 1283.2,104.1 L1283.2,122.6 C1283.4,126.6 1280.0,127.6 1278.0,125.6"/></g><g fill="#000"><circle cx="1229.2" cy="77.6" r="1.5"/><circle cx="1206.2" cy="89.1" r="1.5"/><circle cx="1252.2" cy="89.1" r="1.5"/><circle cx="1229.2" cy="91.1" r="1.5"/><circle cx="1183.2" cy="85.6" r="1.5"/><circle cx="1275.2" cy="85.6" r="1.5"/><circle cx="1212.2" cy="64.6" r="1.5"/><circle cx="1246.2" cy="64.6" r="1.5"/><circle cx="1204.2" cy="117.6" r="1.5"/><circle cx="1254.2" cy="117.6" r="1.5"/><circle cx="1229.2" cy="116.6" r="1.5"/><circle cx="1229.2" cy="127.6" r="1.5"/><circle cx="1210.7" cy="140.6" r="1.5"/><circle cx="1247.7" cy="140.6" r="1.5"/><circle cx="1229.2" cy="138.1" r="1.5"/><circle cx="1229.2" cy="148.6" r="1.5"/><circle cx="1194.2" cy="148.9" r="1.5"/><circle cx="1264.2" cy="148.9" r="1.5"/><circle cx="1217.2" cy="159.1" r="1.5"/><circle cx="1241.2" cy="159.1" r="1.5"/><circle cx="1177.2" cy="122.6" r="1.5"/><circle cx="1281.2" cy="122.6" r="1.5"/></g><rect x="1295.2" y="54.9" width="11.6" height="115.9" fill="url(#jet)"/><g font-size="7" fill="#333"><text x="1309.3" y="70.3">0.3</text><text x="1309.3" y="85.9">0.2</text><text x="1309.3" y="101.0">0.1</text><text x="1309.3" y="116.7">0</text><text x="1309.3" y="131.8">-0.1</text><text x="1309.3" y="147.4">-0.2</text><text x="1309.3" y="162.5">-0.3</text></g><text transform="translate(1325.0,113.0) rotate(90)" text-anchor="middle" font-size="16">[a.u.]</text>
<rect x="1739.5" y="5.5" width="252.5" height="220.8" fill="#fff"/><path d="M1751.5,5.5V226.3M1833.6,5.5V226.3M1915.4,5.5V226.3M1739.5,55.8H1992.0M1739.5,110.3H1992.0M1739.5,164.4H1992.0M1739.5,218.8H1992.0" stroke="#ebebeb" stroke-width="1.1"/><path d="M1759.7,140.2 L1767.9,136.3 L1776.1,150.8 L1784.3,203.0 L1792.5,157.6 L1800.7,160.5 L1808.9,131.5 L1817.1,125.7 L1825.2,114.1 L1833.4,65.8 L1841.6,197.2 L1849.8,100.6 L1858.0,171.1 L1866.2,106.4 L1874.4,81.3 L1882.6,121.9 L1890.8,21.4 L1899.0,114.1 L1907.2,92.9 L1915.4,86.1 L1923.5,112.2 L1931.7,123.8 L1939.9,131.5 L1948.1,121.9 L1956.3,154.7 L1964.5,123.8 L1972.7,106.4 L1980.9,125.7" fill="none" stroke="#e69f00" stroke-width="1.4" stroke-dasharray="6,3.6"/><path d="M1759.7,151.8 L1767.9,162.4 L1776.1,135.4 L1784.3,75.5 L1792.5,118.0 L1800.7,143.1 L1808.9,71.6 L1817.1,165.3 L1825.2,83.2 L1833.4,96.7 L1841.6,183.7 L1849.8,183.7 L1858.0,158.6 L1866.2,38.8 L1874.4,137.3 L1882.6,213.6 L1890.8,123.8 L1899.0,73.6 L1907.2,157.6 L1915.4,90.9 L1923.5,108.3 L1931.7,50.4 L1939.9,100.6 L1948.1,164.4 L1956.3,40.7 L1964.5,17.5 L1972.7,89.0 L1980.9,95.8" fill="none" stroke="#1f6472" stroke-width="1.4" stroke-dasharray="6,3.6"/><path d="M1751.5,156.6 L1980.9,98.3" stroke="#e69f00" stroke-width="1.5"/><path d="M1751.5,144.1 L1980.9,86.1" stroke="#1a5f6e" stroke-width="1.5"/><rect x="1739.5" y="5.5" width="252.5" height="220.8" fill="none" stroke="#333" stroke-width="1.2"/><path d="M1751.5,226.3v3M1833.6,226.3v3M1915.4,226.3v3M1739.5,55.8h-3M1739.5,110.3h-3M1739.5,164.4h-3M1739.5,218.8h-3" stroke="#333" stroke-width="1.1"/><g font-size="24" fill="#4d4d4d"><text x="1751.5" y="250.8" text-anchor="middle">0</text><text x="1833.6" y="250.8" text-anchor="middle">10</text><text x="1915.4" y="250.8" text-anchor="middle">20</text><text x="1734.5" y="64.4" text-anchor="end">20</text><text x="1734.5" y="118.9" text-anchor="end">10</text><text x="1734.5" y="173.0" text-anchor="end">0</text><text x="1734.5" y="227.4" text-anchor="end">-10</text></g><text x="1865.8" y="273.6" text-anchor="middle" font-size="24.5">Block number</text><text transform="translate(1692.5,115.9) rotate(-90)" text-anchor="middle" font-size="24.5">Amplitude [a.u.]</text>
<path d="M116.3,619.1V1090.0H959.5" fill="none" stroke="#858585" stroke-width="1.05"/>
<text x="108.7" y="1047.5" text-anchor="end" font-size="24.5">-4</text>
<text x="108.7" y="977.9" text-anchor="end" font-size="24.5">-2</text>
<text x="108.7" y="908.2" text-anchor="end" font-size="24.5">0</text>
<text x="108.7" y="838.5" text-anchor="end" font-size="24.5">2</text>
<text x="108.7" y="768.8" text-anchor="end" font-size="24.5">4</text>
<text x="108.7" y="699.2" text-anchor="end" font-size="24.5">6</text>
<text x="108.7" y="629.5" text-anchor="end" font-size="24.5">8</text>
<text x="180.2" y="1122.2" text-anchor="middle" font-size="24.5">-100</text>
<text x="309.9" y="1122.2" text-anchor="middle" font-size="24.5">0</text>
<text x="439.6" y="1122.2" text-anchor="middle" font-size="24.5">100</text>
<text x="569.3" y="1122.2" text-anchor="middle" font-size="24.5">200</text>
<text x="699.1" y="1122.2" text-anchor="middle" font-size="24.5">300</text>
<text x="828.8" y="1122.2" text-anchor="middle" font-size="24.5">400</text>
<text x="958.5" y="1122.2" text-anchor="middle" font-size="24.5">500</text>
<path d="M116.3,1037.7h8M116.3,968.1h8M116.3,898.4h8M116.3,828.7h8M116.3,759.0h8M116.3,689.4h8M116.3,619.7h8M129.3,1090.0v-4M155.2,1090.0v-4M181.2,1090.0v-8M207.1,1090.0v-4M233.1,1090.0v-4M259.0,1090.0v-4M284.9,1090.0v-4M310.9,1090.0v-8M336.8,1090.0v-4M362.8,1090.0v-4M388.7,1090.0v-4M414.7,1090.0v-4M440.6,1090.0v-8M466.6,1090.0v-4M492.5,1090.0v-4M518.4,1090.0v-4M544.4,1090.0v-4M570.3,1090.0v-8M596.3,1090.0v-4M622.2,1090.0v-4M648.2,1090.0v-4M674.1,1090.0v-4M700.1,1090.0v-8M726.0,1090.0v-4M751.9,1090.0v-4M777.9,1090.0v-4M803.8,1090.0v-4M829.8,1090.0v-8M855.7,1090.0v-4M881.7,1090.0v-4M907.6,1090.0v-4M933.6,1090.0v-4M959.5,1090.0v-8" stroke="#858585" stroke-width="1.1"/>
<rect x="385.5" y="619.7" width="64.5" height="469.5" fill="#cccccc"/>
<clipPath id="axc"><rect x="116.3" y="617.7" width="843.2" height="472.3"/></clipPath><g clip-path="url(#axc)">
<path d="M116.0,858.8C117.3,858.6 120.8,858.8 123.5,857.5C126.2,856.3 128.7,853.1 132.3,851.3C135.8,849.5 140.8,846.8 144.8,846.9C148.7,847.0 152.5,850.4 156.0,851.9C159.6,853.4 163.1,855.3 166.1,855.7C169.0,856.0 170.6,855.1 173.6,853.8C176.5,852.4 180.2,849.3 183.6,847.5C186.9,845.8 190.2,843.3 193.6,843.1C196.9,843.0 200.3,844.9 203.6,846.9C206.9,848.9 210.3,853.3 213.6,855.0C216.9,856.8 220.1,857.0 223.6,857.5C227.2,858.1 230.9,858.4 234.9,858.2C238.8,858.0 243.6,857.4 247.4,856.3C251.1,855.1 254.3,852.4 257.4,851.3C260.5,850.1 263.0,849.0 266.2,849.4C269.3,849.8 273.0,852.0 276.2,853.8C279.3,855.6 282.0,858.5 284.9,860.0C287.8,861.6 290.5,863.0 293.7,863.2C296.8,863.4 299.9,862.4 303.7,861.3C307.4,860.1 312.0,857.9 316.2,856.3C320.4,854.7 325.0,851.7 328.7,851.9C332.5,852.1 334.5,853.0 338.7,857.5C342.9,862.1 349.3,874.0 353.8,879.0C358.3,884.0 361.9,885.6 365.9,887.6C369.9,889.6 373.9,890.5 378.0,891.1C382.0,891.6 386.4,892.3 390.0,891.1C393.7,889.8 396.4,888.2 400.0,883.5C403.6,878.8 407.6,869.2 411.4,862.6C415.2,856.0 419.0,850.2 422.8,843.6C426.6,837.0 428.5,840.3 434.2,822.8C439.9,805.3 451.7,757.2 457.3,738.7C462.8,720.2 464.2,717.8 467.6,711.8C471.1,705.7 474.2,704.2 478.0,702.4C481.8,700.7 486.3,701.6 490.4,701.4C494.5,701.2 498.7,700.5 502.8,701.4C507.0,702.3 511.4,703.1 515.2,706.6C519.0,710.0 522.1,715.0 525.6,722.1C529.0,729.2 529.8,727.7 535.9,749.0C542.1,770.3 557.0,828.9 562.6,850.0C568.2,871.1 567.3,867.7 569.8,875.9C572.3,884.1 574.9,892.3 577.5,899.2C580.1,906.1 582.5,911.5 585.3,917.3C588.1,923.1 591.1,928.1 594.3,934.1C597.5,940.1 601.2,947.0 604.7,953.5C608.2,960.0 611.8,966.9 615.0,972.9C618.2,978.9 621.5,985.2 624.1,989.7C626.7,994.2 627.7,996.5 630.6,1000.0C633.5,1003.5 637.0,1009.9 641.5,1010.5C646.0,1011.0 652.7,1006.0 657.8,1003.2C662.9,1000.5 667.2,997.3 672.3,994.2C677.4,991.0 683.5,985.7 688.6,984.2C693.7,982.7 697.7,984.7 703.1,985.1C708.5,985.6 715.2,986.3 721.2,986.9C727.3,987.5 734.2,987.7 739.3,988.7C744.5,989.8 746.2,994.9 752.0,993.3C757.8,991.7 766.5,983.5 774.2,979.1C781.9,974.7 791.9,970.6 798.3,967.0C804.7,963.4 808.8,959.3 812.8,957.3C816.8,955.3 818.9,955.6 822.5,954.9C826.1,954.2 830.5,955.0 834.5,953.0C838.5,951.0 842.2,948.3 846.6,943.0C851.0,937.7 856.3,927.2 861.1,921.1C865.9,915.0 870.0,911.4 875.6,906.6C881.2,901.8 888.5,897.3 894.9,892.1C901.3,886.9 907.8,881.6 914.3,875.2C920.8,868.8 926.2,862.8 933.6,853.5C941.0,844.2 954.7,825.3 958.9,819.7L958.9,964.6C954.7,966.6 941.0,973.0 933.6,976.7C926.1,980.3 920.7,982.3 914.3,986.3C907.8,990.4 900.6,997.6 894.9,1000.8C889.3,1004.0 885.3,1002.4 880.4,1005.7C875.6,1008.9 870.8,1015.7 865.9,1020.1C861.1,1024.6 856.7,1028.6 851.4,1032.2C846.2,1035.8 841.4,1039.1 834.5,1041.9C827.7,1044.7 818.4,1047.1 810.4,1049.1C802.3,1051.1 793.9,1051.9 786.2,1054.0C778.6,1056.0 769.9,1060.1 764.5,1061.2C759.1,1062.3 757.4,1061.5 753.8,1060.3C750.3,1059.1 746.9,1055.6 743.0,1054.0C739.0,1052.3 734.8,1050.7 730.3,1050.4C725.8,1050.0 720.3,1052.6 715.8,1052.2C711.3,1051.7 707.0,1048.8 703.1,1047.6C699.2,1046.4 695.9,1044.8 692.2,1044.9C688.6,1045.1 685.6,1046.4 681.4,1048.5C677.1,1050.7 671.7,1054.0 666.9,1057.6C662.0,1061.2 656.6,1067.3 652.4,1070.3C648.1,1073.3 645.1,1075.7 641.5,1075.7C637.9,1075.7 635.1,1073.9 630.6,1070.3C626.1,1066.7 619.7,1060.9 614.3,1054.0C608.9,1047.0 602.8,1037.6 598.0,1028.6C593.2,1019.6 588.1,1006.9 585.3,1000.0C582.5,993.1 583.3,992.7 581.4,987.1C579.5,981.5 576.2,973.7 573.6,966.4C571.0,959.1 568.3,950.4 565.9,943.1C563.5,935.8 561.6,929.3 559.4,922.4C557.2,915.5 555.0,908.4 552.9,901.7C550.8,895.0 548.6,888.1 546.5,882.3C544.4,876.5 541.8,870.7 540.0,866.8C538.2,862.9 538.3,863.5 535.9,858.8C533.5,854.0 528.7,844.4 525.6,838.1C522.5,831.7 520.1,823.8 517.3,820.5C514.5,817.1 513.2,818.0 509.0,817.8C504.9,817.5 497.6,818.1 492.5,818.8C487.3,819.5 481.1,820.9 478.0,821.9C474.9,822.9 476.4,821.9 473.8,824.6C471.3,827.3 466.4,831.0 462.6,838.0C458.8,845.0 455.3,856.9 451.2,866.4C447.1,875.9 442.4,885.4 438.0,894.9C433.6,904.4 429.1,914.4 424.7,923.3C420.3,932.1 415.5,941.7 411.4,948.0C407.3,954.3 403.8,957.8 400.0,961.3C396.2,964.8 392.0,967.2 388.3,968.7C384.6,970.2 380.8,970.6 378.0,970.4C375.1,970.3 373.1,968.9 371.1,967.9C369.0,966.8 368.2,966.7 365.9,964.4C363.6,962.1 361.8,961.2 357.3,954.0C352.7,946.9 343.5,927.8 338.7,921.4C334.0,914.9 332.5,917.0 328.7,915.1C325.0,913.2 320.4,910.7 316.2,910.1C312.0,909.5 307.9,911.2 303.7,911.3C299.5,911.4 295.3,911.3 291.2,910.7C287.0,910.1 282.8,908.0 278.7,907.6C274.5,907.2 270.3,907.0 266.2,908.2C262.0,909.5 257.2,912.7 253.6,915.1C250.1,917.5 247.4,920.5 244.9,922.6C242.4,924.7 240.7,926.3 238.6,927.6C236.5,929.0 234.7,930.9 232.4,930.7C230.1,930.5 227.6,928.8 224.9,926.4C222.1,924.0 219.6,918.5 216.1,916.3C212.6,914.2 207.8,913.7 203.6,913.2C199.4,912.7 194.6,912.3 191.1,913.2C187.5,914.2 185.2,917.1 182.3,918.8C179.4,920.6 176.7,923.4 173.6,923.9C170.4,924.3 166.9,922.6 163.5,921.4C160.2,920.1 157.3,917.4 153.5,916.3C149.8,915.3 144.6,915.3 141.0,915.1C137.5,914.9 135.2,914.5 132.3,915.1C129.3,915.7 126.2,918.0 123.5,918.8C120.8,919.7 117.3,919.9 116.0,920.1Z" fill="rgb(235,143,0)" fill-opacity="0.5"/>
<path d="M116.0,889.4C117.3,889.2 120.8,889.3 123.5,888.2C126.2,887.0 128.7,884.3 132.3,882.6C135.8,880.8 140.8,878.0 144.8,877.8C148.7,877.6 151.9,879.3 156.0,881.3C160.2,883.3 165.6,889.4 169.8,889.8C174.0,890.2 177.5,885.8 181.1,883.8C184.6,881.9 188.2,879.4 191.1,878.2C194.0,876.9 195.9,876.0 198.6,876.3C201.3,876.6 204.0,878.1 207.3,880.1C210.7,882.0 214.4,885.7 218.6,888.2C222.8,890.7 228.6,894.1 232.4,895.1C236.1,896.0 238.0,895.5 241.1,893.8C244.3,892.2 248.0,887.6 251.1,885.1C254.3,882.6 257.2,880.0 259.9,878.8C262.6,877.7 264.7,877.6 267.4,878.2C270.1,878.8 273.2,880.9 276.2,882.6C279.1,884.2 282.0,886.9 284.9,888.2C287.8,889.4 290.5,890.2 293.7,890.1C296.8,890.0 300.8,888.6 303.7,887.6C306.6,886.5 308.5,884.8 311.2,883.8C313.9,882.9 317.0,882.0 320.0,881.9C322.9,881.8 325.6,881.8 328.7,883.2C331.8,884.5 335.1,886.2 338.7,890.1C342.3,894.0 346.7,902.1 350.4,906.6C354.0,911.1 357.3,913.8 360.7,916.9C364.2,920.1 367.3,923.4 371.1,925.6C374.8,927.7 379.7,929.3 383.1,929.9C386.6,930.5 389.0,930.4 391.8,929.0C394.6,927.6 396.7,924.6 400.0,921.4C403.3,918.2 407.6,915.5 411.4,910.1C415.2,904.7 419.3,896.8 422.8,889.2C426.3,881.6 429.2,873.0 432.3,864.5C435.4,856.0 438.9,845.6 441.7,838.0C444.5,830.4 447.1,825.3 449.3,819.0C451.5,812.7 453.0,806.5 455.0,800.0C457.0,793.5 458.3,785.8 461.4,780.1C464.5,774.3 469.3,768.9 473.8,765.6C478.3,762.3 483.1,761.6 488.3,760.4C493.5,759.2 500.1,757.5 504.9,758.3C509.7,759.2 513.2,761.3 517.3,765.6C521.4,769.9 525.6,775.6 529.7,784.2C533.9,792.9 539.1,806.4 542.2,817.3C545.2,828.3 545.6,840.2 547.8,850.0C550.0,859.8 552.7,867.3 555.5,875.9C558.3,884.5 561.4,892.7 564.6,901.7C567.8,910.8 571.5,921.6 574.9,930.2C578.3,938.8 582.1,946.4 585.3,953.5C588.5,960.6 591.5,965.8 594.3,972.9C597.1,980.0 598.2,986.9 602.1,996.2C606.0,1005.5 613.2,1021.1 617.9,1028.6C622.7,1036.1 626.4,1038.7 630.6,1041.3C634.8,1043.9 639.1,1044.6 643.3,1044.0C647.5,1043.4 651.5,1041.4 656.0,1037.7C660.5,1033.9 665.6,1025.3 670.5,1021.4C675.3,1017.4 680.8,1015.3 685.0,1014.1C689.2,1012.9 691.3,1013.2 695.9,1014.1C700.4,1015.0 706.7,1018.8 712.2,1019.5C717.6,1020.3 723.3,1018.0 728.5,1018.6C733.6,1019.2 738.7,1021.8 743.0,1023.2C747.2,1024.5 750.3,1026.9 753.8,1026.8C757.4,1026.7 760.3,1024.7 764.5,1022.6C768.7,1020.4 773.3,1016.1 779.0,1014.1C784.6,1012.1 791.9,1012.3 798.3,1010.5C804.8,1008.7 811.6,1005.2 817.6,1003.2C823.7,1001.2 828.9,1001.2 834.5,998.4C840.2,995.6 846.2,990.4 851.4,986.3C856.7,982.3 861.5,978.7 865.9,974.3C870.4,969.8 874.0,963.8 878.0,959.8C882.0,955.7 885.7,953.3 890.1,950.1C894.5,946.9 899.0,945.7 904.6,940.4C910.2,935.2 917.5,924.3 923.9,918.7C930.4,913.1 937.4,911.0 943.2,906.6C949.1,902.2 956.3,894.5 958.9,892.1" fill="none" stroke="#f06400" stroke-width="2.3" stroke-linejoin="round"/>
<path d="M116.0,851.9C117.3,852.1 120.8,852.2 123.5,853.2C126.2,854.1 129.3,856.6 132.3,857.5C135.2,858.5 137.9,859.2 141.0,858.8C144.2,858.4 147.9,856.5 151.0,855.0C154.2,853.6 157.3,851.2 159.8,850.0C162.3,848.9 164.0,848.2 166.1,848.2C168.1,848.2 170.2,848.7 172.3,850.0C174.4,851.4 175.4,854.4 178.6,856.3C181.7,858.2 186.9,860.0 191.1,861.3C195.2,862.5 199.4,864.1 203.6,863.8C207.8,863.5 211.9,860.2 216.1,859.4C220.3,858.6 225.5,858.8 228.6,858.8C231.7,858.8 232.8,859.0 234.9,859.4C237.0,859.8 238.0,859.5 241.1,861.3C244.3,863.1 249.5,866.9 253.6,870.1C257.8,873.2 262.0,877.1 266.2,880.1C270.3,883.0 274.5,885.6 278.7,887.6C282.8,889.5 288.0,891.5 291.2,891.9C294.3,892.4 294.9,892.5 297.4,890.1C299.9,887.7 303.1,880.3 306.2,877.6C309.3,874.8 312.4,874.5 316.2,873.8C320.0,873.1 324.5,873.0 328.7,873.2C332.9,873.4 337.0,873.5 341.2,875.1C345.4,876.6 349.7,879.2 353.8,882.4C357.9,885.7 361.9,890.2 365.9,894.5C369.9,898.8 373.9,905.3 378.0,908.3C382.0,911.3 386.4,913.0 390.0,912.6C393.7,912.3 396.4,910.2 400.0,906.3C403.6,902.4 407.6,895.2 411.4,889.2C415.2,883.2 419.0,877.2 422.8,870.2C426.6,863.2 430.7,854.7 434.2,847.4C437.7,840.1 440.8,832.9 443.6,826.6C446.4,820.3 449.3,813.9 451.2,809.5C453.1,805.1 453.0,809.7 455.0,800.0C457.0,790.3 460.3,764.1 463.5,751.1C466.6,738.1 470.4,730.4 473.8,722.1C477.3,713.8 481.4,706.9 484.2,701.4C486.9,695.9 488.3,691.9 490.4,689.0C492.5,686.1 494.5,684.2 496.6,683.8C498.7,683.5 500.4,683.6 502.8,686.9C505.2,690.2 508.3,697.6 511.1,703.5C513.9,709.3 516.3,714.5 519.4,722.1C522.5,729.7 526.3,738.7 529.7,749.0C533.2,759.4 536.6,772.8 540.1,784.2C543.5,795.6 546.6,806.4 550.4,817.3C554.3,828.3 559.9,840.2 563.3,850.0C566.7,859.8 568.4,867.7 571.0,875.9C573.6,884.1 576.0,891.2 578.8,899.2C581.6,907.2 584.7,915.7 587.9,923.7C591.1,931.7 594.5,939.9 598.2,947.0C601.9,954.1 606.2,960.8 609.9,966.4C613.6,972.0 616.8,977.2 620.2,980.7C623.7,984.2 627.3,985.6 630.6,987.1C633.9,988.6 637.6,989.3 640.0,989.7C642.4,990.1 641.2,990.7 645.1,989.6C649.0,988.6 657.8,985.0 663.2,983.3C668.7,981.6 672.6,981.8 677.7,979.7C682.9,977.6 689.2,972.3 694.0,970.6C698.9,969.0 702.2,969.1 706.7,969.7C711.3,970.3 715.8,974.1 721.2,974.2C726.7,974.4 732.1,970.4 739.3,970.6C746.6,970.8 757.9,975.7 764.5,975.5C771.1,975.3 774.6,971.2 779.0,969.4C783.4,967.6 786.6,965.2 791.1,964.6C795.5,964.0 800.3,967.2 805.6,965.8C810.8,964.4 817.6,958.8 822.5,956.1C827.3,953.5 830.5,953.5 834.5,950.1C838.6,946.7 842.6,940.2 846.6,935.6C850.6,931.0 854.7,923.9 858.7,922.3C862.7,920.7 867.1,924.1 870.8,925.9C874.4,927.8 877.6,932.0 880.4,933.2C883.3,934.4 884.5,934.8 887.7,933.2C890.9,931.6 894.5,928.4 899.8,923.5C905.0,918.7 912.6,910.6 919.1,904.2C925.5,897.8 931.8,892.5 938.4,884.9C945.0,877.2 955.5,862.7 958.9,858.3L958.9,967.0C955.5,968.6 944.2,974.5 938.4,976.7C932.6,978.9 929.5,979.3 923.9,980.3C918.3,981.3 911.0,981.3 904.6,982.7C898.1,984.1 891.7,986.1 885.3,988.7C878.8,991.4 872.4,994.4 865.9,998.4C859.5,1002.4 853.1,1008.1 846.6,1012.9C840.2,1017.7 832.9,1022.6 827.3,1027.4C821.7,1032.2 817.6,1037.9 812.8,1041.9C808.0,1045.9 802.7,1050.3 798.3,1051.5C793.9,1052.8 791.1,1050.7 786.2,1049.1C781.4,1047.5 775.6,1044.1 769.3,1041.9C763.0,1039.7 754.9,1037.2 748.4,1035.9C741.9,1034.5 735.4,1034.0 730.3,1034.0C725.2,1034.0 722.7,1034.9 717.6,1035.9C712.5,1036.8 705.5,1038.3 699.5,1039.5C693.4,1040.7 687.4,1041.6 681.4,1043.1C675.3,1044.6 669.3,1047.0 663.2,1048.5C657.2,1050.0 650.5,1051.3 645.1,1052.2C639.7,1053.1 635.4,1055.5 630.6,1054.0C625.8,1052.5 621.2,1048.5 616.1,1043.1C611.0,1037.7 604.5,1028.5 599.8,1021.4C595.1,1014.2 590.8,1005.7 587.9,1000.0C585.0,994.3 584.7,992.3 582.7,987.1C580.8,981.9 578.6,975.7 576.2,969.0C573.8,962.3 571.1,954.5 568.5,947.0C565.9,939.5 563.3,931.2 560.7,923.7C558.1,916.2 555.5,909.0 552.9,901.7C550.3,894.4 547.7,886.3 545.2,879.8C542.7,873.3 540.9,869.5 538.0,862.9C535.1,856.3 531.1,847.5 527.7,840.1C524.2,832.7 520.8,824.6 517.3,818.4C513.9,812.2 510.4,806.7 507.0,802.9C503.5,799.1 500.0,795.3 496.6,795.6C493.2,796.0 490.4,797.8 486.3,804.9C482.2,812.0 475.4,829.3 472.1,838.0C468.8,846.7 468.6,850.6 466.4,856.9C464.2,863.2 461.5,869.2 458.8,875.9C456.1,882.5 453.8,887.3 450.3,896.8C446.8,906.3 442.3,922.0 438.0,932.8C433.7,943.5 429.1,952.4 424.7,961.3C420.3,970.2 415.5,978.1 411.4,986.0C407.3,993.9 403.0,1004.1 400.0,1008.7C397.0,1013.3 395.4,1013.6 393.5,1013.6C391.5,1013.5 390.6,1012.7 388.3,1008.4C386.0,1004.1 382.6,994.6 379.7,987.7C376.8,980.8 373.4,971.9 371.1,967.0C368.8,962.1 368.2,961.8 365.9,958.4C363.6,954.9 361.8,951.4 357.3,946.3C352.7,941.2 343.5,931.3 338.7,927.6C334.0,923.9 332.5,923.4 328.7,923.9C325.0,924.3 320.0,927.8 316.2,930.1C312.4,932.4 309.3,936.1 306.2,937.6C303.1,939.2 301.0,939.5 297.4,939.5C293.9,939.5 289.1,938.3 284.9,937.6C280.7,936.9 276.6,936.2 272.4,935.1C268.2,934.1 264.1,932.6 259.9,931.4C255.7,930.1 251.6,929.5 247.4,927.6C243.2,925.7 239.0,921.9 234.9,920.1C230.7,918.3 226.5,917.2 222.4,917.0C218.2,916.8 213.4,919.0 209.8,918.8C206.3,918.7 204.2,917.4 201.1,916.3C198.0,915.3 194.4,912.8 191.1,912.6C187.7,912.4 184.2,914.2 181.1,915.1C177.9,916.0 175.2,917.6 172.3,918.2C169.4,918.8 166.7,919.1 163.5,918.8C160.4,918.6 157.3,917.9 153.5,917.0C149.8,916.0 144.6,913.7 141.0,913.2C137.5,912.7 135.2,913.4 132.3,913.8C129.3,914.3 126.2,915.1 123.5,915.7C120.8,916.3 117.3,917.3 116.0,917.6Z" fill="rgb(0,85,107)" fill-opacity="0.5"/>
<path d="M116.0,885.1C118.1,885.0 123.7,884.0 128.5,884.4C133.3,884.9 140.0,887.6 144.8,887.6C149.6,887.6 153.1,885.3 157.3,884.4C161.5,883.6 165.6,882.2 169.8,882.6C174.0,882.9 178.8,885.1 182.3,886.3C185.9,887.6 187.9,889.2 191.1,890.1C194.2,890.9 197.3,891.9 201.1,891.6C204.8,891.3 209.6,889.0 213.6,888.2C217.6,887.4 221.3,886.6 224.9,886.9C228.4,887.3 231.1,888.5 234.9,890.1C238.6,891.6 243.2,894.0 247.4,896.3C251.6,898.6 255.7,901.5 259.9,903.8C264.1,906.1 268.7,908.3 272.4,910.1C276.2,911.9 279.3,913.5 282.4,914.5C285.5,915.4 288.0,916.2 291.2,915.7C294.3,915.2 298.1,913.1 301.2,911.3C304.3,909.6 307.0,907.0 309.9,905.1C312.9,903.2 315.6,901.2 318.7,900.1C321.8,899.0 325.4,898.4 328.7,898.6C332.0,898.8 335.1,899.4 338.7,901.3C342.3,903.2 346.7,906.6 350.4,910.0C354.0,913.5 357.3,917.5 360.7,922.1C364.2,926.7 367.9,932.5 371.1,937.7C374.2,942.8 376.8,949.0 379.7,953.2C382.6,957.4 385.7,960.9 388.3,962.7C390.9,964.4 393.3,964.4 395.2,963.5C397.2,962.7 397.3,962.0 400.0,957.5C402.7,953.0 407.6,943.2 411.4,936.6C415.2,930.0 419.0,924.2 422.8,917.6C426.6,911.0 430.7,904.4 434.2,896.8C437.7,889.2 440.5,880.3 443.6,872.1C446.8,863.9 450.2,855.3 453.1,847.4C456.0,839.5 458.2,832.6 460.7,824.7C463.2,816.8 466.1,808.1 468.3,800.0C470.5,791.9 471.2,784.1 473.8,775.9C476.5,767.8 480.4,757.1 484.2,751.1C488.0,745.1 492.8,740.4 496.6,739.7C500.4,739.0 503.5,742.6 507.0,747.0C510.4,751.3 513.5,757.7 517.3,765.6C521.1,773.5 525.2,784.2 529.7,794.6C534.2,804.9 540.8,818.5 544.2,827.7C547.7,836.9 547.8,842.0 550.3,850.0C552.8,858.0 556.4,867.3 559.4,875.9C562.4,884.5 565.3,892.7 568.5,901.7C571.7,910.8 575.3,921.6 578.8,930.2C582.2,938.8 585.8,946.4 589.2,953.5C592.7,960.6 596.0,965.8 599.5,972.9C603.0,980.0 606.2,989.3 609.9,996.2C613.6,1003.1 617.2,1010.1 621.6,1014.1C625.9,1018.1 631.5,1019.5 636.0,1020.4C640.6,1021.4 643.6,1020.4 648.7,1019.5C653.9,1018.6 660.8,1016.8 666.9,1015.0C672.9,1013.2 679.8,1010.6 685.0,1008.7C690.1,1006.7 693.1,1004.0 697.7,1003.2C702.2,1002.5 706.7,1004.1 712.2,1004.1C717.6,1004.1 724.2,1003.1 730.3,1003.2C736.3,1003.4 741.1,1004.8 748.4,1005.0C755.7,1005.2 765.8,1003.9 774.2,1004.4C782.5,1004.9 791.1,1009.1 798.3,1008.1C805.6,1007.1 811.6,1002.4 817.6,998.4C823.7,994.4 828.9,989.1 834.5,983.9C840.2,978.7 846.6,971.2 851.4,967.0C856.3,962.8 858.3,959.4 863.5,958.6C868.8,957.7 876.8,962.8 882.9,962.2C888.9,961.6 893.7,958.1 899.8,954.9C905.8,951.7 912.6,946.9 919.1,942.9C925.5,938.8 931.8,936.2 938.4,930.8C945.0,925.3 955.5,913.7 958.9,910.2" fill="none" stroke="#006a68" stroke-width="2.6" stroke-linejoin="round"/>
</g>
<path d="M116.3,619.1V1090.0H959.5" fill="none" stroke="#858585" stroke-width="1.05"/>
<text x="13.5" y="620.0" font-family="DejaVu Sans, sans-serif" font-size="39.5">c</text>
<text transform="translate(31.8,621.8) scale(1.15,1)" font-family="DejaVu Sans, sans-serif" font-size="41">)</text>
<text x="116.6" y="610.6" font-weight="bold" font-size="27.2">N1 TRF (envelope noise reduced)</text>
<text x="538.3" y="1147.0" text-anchor="middle" font-size="27.1">Time [ms]</text>
<text transform="translate(79.4,854.9) rotate(-90)" text-anchor="middle" font-size="27">Amplitude [a.u.]</text>
<path d="M186.9,990.1h23" stroke="#f06400" stroke-width="2.8" stroke-linecap="round"/>
<path d="M186.9,1010.7h23" stroke="#006a5c" stroke-width="2.8" stroke-linecap="round"/>
<text x="212.3" y="996.5" font-size="16">low</text>
<text x="212.3" y="1017.1" font-size="16">high</text>
<circle cx="220.2" cy="692.8" r="53.6" fill="url(#tgc)"/><circle cx="220.2" cy="692.8" r="53.6" fill="url(#ovc)"/><g clip-path="url(#cpc)" fill="none" stroke="#222" stroke-opacity="0.55" stroke-width="0.8"><ellipse cx="220.7" cy="695.8" rx="19.5" ry="14.3"/><ellipse cx="220.7" cy="694.8" rx="29.0" ry="22.0"/><ellipse cx="220.7" cy="693.3" rx="36.0" ry="30.0"/><ellipse cx="220.7" cy="691.8" rx="43.0" ry="39.0"/><ellipse cx="220.7" cy="690.8" rx="50.5" ry="47.0"/></g><g fill="none" stroke="#000" stroke-width="2.0" stroke-linejoin="round"><circle cx="220.2" cy="692.3" r="49.2"/><path d="M211.0,643.4 L218.2,635.8 Q220.2,634.0 222.2,635.8 L229.4,643.4"/><path d="M171.2,681.8 C168.7,679.3 166.2,680.3 166.2,683.3 L166.2,701.8 C166.0,705.8 169.4,706.8 171.4,704.8"/><path d="M269.2,681.8 C271.7,679.3 274.2,680.3 274.2,683.3 L274.2,701.8 C274.4,705.8 271.0,706.8 269.0,704.8"/></g><g fill="#000"><circle cx="220.2" cy="656.8" r="1.5"/><circle cx="197.2" cy="668.3" r="1.5"/><circle cx="243.2" cy="668.3" r="1.5"/><circle cx="220.2" cy="670.3" r="1.5"/><circle cx="174.2" cy="664.8" r="1.5"/><circle cx="266.2" cy="664.8" r="1.5"/><circle cx="203.2" cy="643.8" r="1.5"/><circle cx="237.2" cy="643.8" r="1.5"/><circle cx="195.2" cy="696.8" r="1.5"/><circle cx="245.2" cy="696.8" r="1.5"/><circle cx="220.2" cy="695.8" r="1.5"/><circle cx="220.2" cy="706.8" r="1.5"/><circle cx="201.7" cy="719.8" r="1.5"/><circle cx="238.7" cy="719.8" r="1.5"/><circle cx="220.2" cy="717.3" r="1.5"/><circle cx="220.2" cy="727.8" r="1.5"/><circle cx="185.2" cy="728.1" r="1.5"/><circle cx="255.2" cy="728.1" r="1.5"/><circle cx="208.2" cy="738.3" r="1.5"/><circle cx="232.2" cy="738.3" r="1.5"/><circle cx="168.2" cy="701.8" r="1.5"/><circle cx="272.2" cy="701.8" r="1.5"/></g><rect x="286.3" y="633.8" width="11.4" height="116.2" fill="url(#jet)"/><g font-size="7" fill="#333"><text x="300.2" y="649.5">0.1</text><text x="300.2" y="672.0">0.05</text><text x="300.2" y="695.5">0</text><text x="300.2" y="718.0">-0.05</text><text x="300.2" y="740.8">-0.1</text></g><text transform="translate(315.8,692.0) rotate(90)" text-anchor="middle" font-size="16">[a.u.]</text>
<rect x="687.5" y="597.5" width="265.5" height="220.0" fill="#fff"/><path d="M699.5,597.5V817.5M785.5,597.5V817.5M871.8,597.5V817.5M687.5,642.0H953.0M687.5,701.8H953.0M687.5,761.8H953.0" stroke="#ebebeb" stroke-width="1.1"/><path d="M708.2,709.6 L716.8,708.8 L725.4,738.9 L734.0,705.1 L742.7,740.1 L751.3,688.8 L759.9,748.9 L768.5,741.4 L777.1,750.1 L785.7,685.1 L794.4,686.3 L803.0,686.3 L811.6,691.3 L820.2,686.3 L828.8,718.8 L837.5,690.1 L846.1,683.8 L854.7,657.6 L863.3,661.3 L871.9,685.1 L880.6,756.4 L889.2,710.1 L897.8,658.8 L906.4,725.1 L915.0,682.6 L923.7,650.0 L932.3,655.0 L940.9,691.3" fill="none" stroke="#e69f00" stroke-width="1.4" stroke-dasharray="6,3.6"/><path d="M708.2,746.4 L716.8,670.1 L725.4,716.3 L734.0,725.1 L742.7,695.1 L751.3,667.6 L759.9,669.6 L768.5,775.1 L777.1,701.3 L785.7,758.9 L794.4,675.1 L803.0,805.2 L811.6,730.1 L820.2,721.3 L828.8,710.1 L837.5,715.1 L846.1,692.6 L854.7,725.1 L863.3,732.6 L871.9,733.9 L880.6,740.1 L889.2,740.1 L897.8,702.6 L906.4,607.5 L915.0,742.6 L923.7,702.6 L932.3,627.5 L940.9,675.1" fill="none" stroke="#1f6472" stroke-width="1.4" stroke-dasharray="6,3.6"/><path d="M699.6,717.6 L941.0,683.8" stroke="#e69f00" stroke-width="1.5"/><path d="M699.6,730.6 L941.0,696.6" stroke="#1a5f6e" stroke-width="1.5"/><rect x="687.5" y="597.5" width="265.5" height="220.0" fill="none" stroke="#333" stroke-width="1.2"/><path d="M699.5,817.5v3M785.5,817.5v3M871.8,817.5v3M687.5,642.0h-3M687.5,701.8h-3M687.5,761.8h-3" stroke="#333" stroke-width="1.1"/><g font-size="24" fill="#4d4d4d"><text x="699.5" y="842.0" text-anchor="middle">0</text><text x="785.5" y="842.0" text-anchor="middle">10</text><text x="871.8" y="842.0" text-anchor="middle">20</text><text x="682.5" y="650.6" text-anchor="end">4</text><text x="682.5" y="710.4" text-anchor="end">0</text><text x="682.5" y="770.4" text-anchor="end">-4</text></g><text x="820.2" y="864.8" text-anchor="middle" font-size="24.5">Block number</text><text transform="translate(655.0,707.5) rotate(-90)" text-anchor="middle" font-size="24.5">Amplitude [a.u.]</text>
<path d="M1124.5,617.7V1088.1H1968.5" fill="none" stroke="#858585" stroke-width="1.05"/>
<text x="1116.9" y="1045.7" text-anchor="end" font-size="24.5">-4</text>
<text x="1116.9" y="976.1" text-anchor="end" font-size="24.5">-2</text>
<text x="1116.9" y="906.5" text-anchor="end" font-size="24.5">0</text>
<text x="1116.9" y="836.9" text-anchor="end" font-size="24.5">2</text>
<text x="1116.9" y="767.3" text-anchor="end" font-size="24.5">4</text>
<text x="1116.9" y="697.7" text-anchor="end" font-size="24.5">6</text>
<text x="1116.9" y="628.1" text-anchor="end" font-size="24.5">8</text>
<text x="1188.4" y="1120.3" text-anchor="middle" font-size="24.5">-100</text>
<text x="1318.3" y="1120.3" text-anchor="middle" font-size="24.5">0</text>
<text x="1448.1" y="1120.3" text-anchor="middle" font-size="24.5">100</text>
<text x="1578.0" y="1120.3" text-anchor="middle" font-size="24.5">200</text>
<text x="1707.8" y="1120.3" text-anchor="middle" font-size="24.5">300</text>
<text x="1837.7" y="1120.3" text-anchor="middle" font-size="24.5">400</text>
<text x="1967.5" y="1120.3" text-anchor="middle" font-size="24.5">500</text>
<path d="M1124.5,1035.9h8M1124.5,966.3h8M1124.5,896.7h8M1124.5,827.1h8M1124.5,757.5h8M1124.5,687.9h8M1124.5,618.3h8M1137.5,1088.1v-4M1163.5,1088.1v-4M1189.4,1088.1v-8M1215.4,1088.1v-4M1241.4,1088.1v-4M1267.3,1088.1v-4M1293.3,1088.1v-4M1319.3,1088.1v-8M1345.2,1088.1v-4M1371.2,1088.1v-4M1397.2,1088.1v-4M1423.1,1088.1v-4M1449.1,1088.1v-8M1475.1,1088.1v-4M1501.1,1088.1v-4M1527.0,1088.1v-4M1553.0,1088.1v-4M1579.0,1088.1v-8M1604.9,1088.1v-4M1630.9,1088.1v-4M1656.9,1088.1v-4M1682.8,1088.1v-4M1708.8,1088.1v-8M1734.8,1088.1v-4M1760.7,1088.1v-4M1786.7,1088.1v-4M1812.7,1088.1v-4M1838.7,1088.1v-8M1864.6,1088.1v-4M1890.6,1088.1v-4M1916.6,1088.1v-4M1942.5,1088.1v-4M1968.5,1088.1v-8" stroke="#858585" stroke-width="1.1"/>
<rect x="1422.5" y="618.3" width="64.5" height="469.0" fill="#cccccc"/>
<clipPath id="axd"><rect x="1124.5" y="616.3" width="844.0" height="471.8"/></clipPath><g clip-path="url(#axd)">
<path d="M1124.0,883.8C1125.0,884.2 1128.2,884.2 1130.3,886.3C1132.3,888.4 1133.4,894.9 1136.5,896.3C1139.6,897.8 1144.9,896.1 1149.0,895.1C1153.2,894.0 1157.4,891.6 1161.5,890.1C1165.7,888.5 1169.9,885.9 1174.1,885.7C1178.2,885.5 1183.0,888.3 1186.6,888.8C1190.1,889.4 1192.2,889.9 1195.3,888.8C1198.4,887.7 1202.0,882.5 1205.3,882.3C1208.7,882.1 1212.0,885.2 1215.3,887.6C1218.7,889.9 1222.2,895.5 1225.4,896.3C1228.5,897.2 1230.8,894.6 1234.1,892.6C1237.4,890.5 1241.8,884.7 1245.4,884.1C1248.9,883.4 1252.3,887.0 1255.4,888.8C1258.5,890.7 1261.0,894.5 1264.1,895.1C1267.3,895.7 1271.2,894.7 1274.2,892.6C1277.1,890.5 1278.9,885.0 1281.7,882.6C1284.4,880.2 1287.5,878.2 1290.4,878.2C1293.3,878.2 1296.5,880.6 1299.2,882.6C1301.9,884.6 1304.0,888.6 1306.7,890.1C1309.4,891.5 1312.5,892.4 1315.4,891.3C1318.4,890.3 1320.7,887.0 1324.2,883.8C1327.7,880.7 1332.5,878.0 1336.7,872.6C1340.9,867.1 1346.1,856.7 1349.2,851.3C1352.4,845.9 1352.8,843.5 1355.5,840.0C1358.1,836.5 1362.1,831.4 1365.2,830.2C1368.2,829.0 1370.4,830.9 1373.8,832.8C1377.3,834.7 1381.6,838.3 1385.9,841.4C1390.2,844.6 1395.4,848.3 1399.7,851.8C1404.0,855.2 1408.6,858.4 1411.8,862.1C1414.9,865.9 1416.4,869.9 1418.7,874.2C1421.0,878.5 1423.0,883.6 1425.6,888.0C1428.2,892.5 1431.3,898.1 1434.2,901.0C1437.1,903.8 1439.7,905.1 1442.8,905.3C1446.0,905.4 1449.7,905.0 1453.2,901.8C1456.7,898.7 1460.4,893.2 1463.6,886.3C1466.7,879.4 1469.3,869.9 1472.2,860.4C1475.1,850.9 1478.4,843.4 1480.8,829.3C1483.2,815.3 1483.5,789.0 1486.6,776.0C1489.6,763.0 1494.9,759.4 1499.0,751.2C1503.1,742.9 1507.3,734.2 1511.4,726.3C1515.6,718.4 1519.7,709.0 1523.9,703.5C1528.0,698.0 1532.8,695.6 1536.3,693.1C1539.7,690.7 1542.1,689.5 1544.6,689.0C1547.0,688.5 1548.8,688.0 1551.0,690.0C1553.2,692.0 1555.9,697.1 1558.0,701.0C1560.1,704.9 1561.7,709.6 1563.5,713.5C1565.3,717.4 1566.9,720.6 1569.0,724.5C1571.1,728.4 1573.8,732.9 1575.9,737.0C1578.0,741.1 1579.3,745.3 1581.4,749.4C1583.5,753.5 1585.8,758.3 1588.3,761.8C1590.8,765.2 1594.1,767.1 1596.6,770.1C1599.1,773.1 1601.4,775.8 1603.5,779.7C1605.6,783.6 1607.2,788.9 1609.0,793.5C1610.8,798.1 1612.4,802.9 1614.5,807.3C1616.6,811.7 1619.1,815.9 1621.4,819.8C1623.7,823.7 1625.4,827.3 1628.3,830.8C1631.2,834.3 1635.7,836.1 1639.0,840.6C1642.3,845.1 1645.3,853.8 1648.4,857.7C1651.5,861.6 1654.6,861.3 1657.7,863.9C1660.8,866.5 1663.9,870.6 1667.0,873.2C1670.1,875.8 1673.2,879.4 1676.3,879.4C1679.4,879.4 1682.6,876.8 1685.7,873.2C1688.8,869.6 1691.9,861.3 1695.0,857.7C1698.1,854.1 1700.9,852.8 1704.3,851.5C1707.7,850.2 1712.6,850.2 1715.2,849.9C1717.8,849.6 1718.6,850.4 1720.0,849.9C1721.4,849.4 1720.4,846.2 1723.8,846.8C1727.3,847.4 1735.0,847.1 1740.6,853.5C1746.2,860.0 1751.8,880.4 1757.4,885.4C1763.0,890.4 1768.5,882.9 1774.1,883.7C1779.7,884.6 1785.3,887.1 1790.9,890.4C1796.5,893.8 1802.1,900.5 1807.7,903.8C1813.3,907.2 1818.9,909.7 1824.4,910.5C1830.0,911.4 1835.6,908.9 1841.2,908.9C1846.8,908.9 1852.4,910.8 1858.0,910.5C1863.6,910.3 1869.2,909.1 1874.7,907.2C1880.3,905.2 1885.9,898.5 1891.5,898.8C1897.1,899.1 1902.7,906.4 1908.3,908.9C1913.9,911.4 1920.0,914.2 1925.0,913.9C1930.1,913.6 1934.0,906.9 1938.5,907.2C1942.9,907.5 1947.1,913.1 1951.9,915.6C1956.6,918.1 1964.4,921.2 1967.0,922.3L1967.0,976.8C1964.2,975.2 1955.8,969.6 1950.2,967.6C1944.6,965.5 1939.0,964.5 1933.4,964.2C1927.8,963.9 1922.2,965.6 1916.7,965.9C1911.1,966.2 1905.5,965.6 1899.9,965.9C1894.3,966.2 1888.7,965.6 1883.1,967.6C1877.5,969.5 1871.1,974.8 1866.4,977.6C1861.6,980.4 1858.8,984.3 1854.6,984.3C1850.4,984.3 1845.4,979.6 1841.2,977.6C1837.0,975.7 1833.4,973.4 1829.5,972.6C1825.6,971.7 1821.9,975.7 1817.7,972.6C1813.5,969.5 1808.2,959.4 1804.3,954.1C1800.4,948.8 1797.6,944.4 1794.3,940.7C1790.9,937.1 1788.1,933.7 1784.2,932.3C1780.3,930.9 1775.3,934.3 1770.8,932.3C1766.3,930.4 1761.8,924.8 1757.4,920.6C1752.9,916.4 1748.1,910.3 1744.0,907.2C1739.8,904.1 1736.2,904.5 1732.2,902.2C1728.2,899.9 1722.6,895.1 1720.0,893.4C1717.4,891.7 1718.8,891.6 1716.7,891.9C1714.6,892.2 1710.5,893.2 1707.4,895.0C1704.3,896.8 1701.2,899.3 1698.1,902.7C1695.0,906.1 1691.9,911.3 1688.8,915.2C1685.7,919.1 1682.2,923.4 1679.4,926.0C1676.6,928.6 1674.6,931.0 1671.7,930.7C1668.8,930.5 1665.2,926.8 1662.3,924.5C1659.4,922.2 1656.9,918.8 1654.6,916.7C1652.3,914.6 1651.0,914.2 1648.4,912.1C1645.8,910.0 1641.8,907.4 1639.0,904.3C1636.2,901.2 1633.9,897.5 1631.3,893.4C1628.7,889.2 1626.1,883.8 1623.5,879.4C1620.9,875.0 1618.3,871.6 1615.7,867.0C1613.1,862.4 1610.3,854.3 1608.0,851.5C1605.7,848.7 1603.8,851.6 1602.1,850.0C1600.4,848.4 1599.8,845.5 1598.0,841.8C1596.2,838.1 1593.4,832.6 1591.1,828.0C1588.8,823.4 1586.7,818.8 1584.2,814.2C1581.7,809.6 1578.7,804.1 1575.9,800.4C1573.1,796.7 1570.6,795.2 1567.6,792.2C1564.6,789.2 1561.2,785.7 1558.0,782.5C1554.8,779.3 1551.3,775.0 1548.3,772.8C1545.3,770.6 1542.7,768.9 1540.0,769.4C1537.3,769.9 1534.5,773.5 1532.2,776.0C1529.8,778.5 1528.7,780.2 1525.9,784.3C1523.2,788.4 1519.4,795.3 1515.6,800.9C1511.8,806.4 1507.3,810.5 1503.1,817.4C1499.0,824.4 1494.4,833.1 1490.7,842.3C1487.0,851.5 1484.2,862.6 1480.8,872.5C1477.4,882.4 1473.3,893.2 1470.5,901.8C1467.6,910.5 1465.9,915.9 1463.6,924.3C1461.3,932.6 1459.0,944.4 1456.7,951.9C1454.4,959.4 1452.0,966.0 1449.7,969.1C1447.4,972.3 1445.7,972.6 1442.8,970.9C1440.0,969.1 1436.2,963.4 1432.5,958.8C1428.7,954.2 1424.4,948.1 1420.4,943.3C1416.4,938.4 1412.6,933.8 1408.3,929.4C1404.0,925.1 1398.8,921.7 1394.5,917.4C1390.2,913.0 1386.2,906.9 1382.4,903.6C1378.7,900.2 1375.8,896.9 1372.1,897.5C1368.3,898.1 1363.8,903.4 1360.0,907.0C1356.2,910.6 1353.1,915.6 1349.2,918.9C1345.3,922.1 1340.9,923.2 1336.7,926.4C1332.5,929.5 1328.4,934.9 1324.2,937.6C1320.0,940.3 1315.4,942.8 1311.7,942.6C1307.9,942.4 1304.8,938.7 1301.7,936.4C1298.5,934.1 1295.4,930.3 1292.9,928.9C1290.4,927.4 1289.4,926.6 1286.7,927.6C1284.0,928.7 1279.8,932.8 1276.7,935.1C1273.5,937.4 1270.8,941.4 1267.9,941.4C1265.0,941.4 1262.3,936.4 1259.1,935.1C1256.0,933.9 1252.9,932.2 1249.1,933.9C1245.4,935.5 1239.7,942.8 1236.6,945.1C1233.5,947.4 1232.9,948.1 1230.4,947.6C1227.9,947.2 1224.7,944.7 1221.6,942.6C1218.5,940.5 1214.9,937.4 1211.6,935.1C1208.3,932.8 1204.7,929.7 1201.6,928.9C1198.4,928.0 1195.7,928.2 1192.8,930.1C1189.9,932.0 1187.2,937.8 1184.1,940.1C1180.9,942.4 1177.8,943.0 1174.1,943.9C1170.3,944.7 1165.7,944.7 1161.5,945.1C1157.4,945.6 1152.2,947.0 1149.0,946.4C1145.9,945.8 1145.3,942.9 1142.8,941.4C1140.3,939.8 1137.1,937.8 1134.0,937.0C1130.9,936.2 1125.7,936.5 1124.0,936.4Z" fill="rgb(235,143,0)" fill-opacity="0.5"/>
<path d="M1124.0,910.1C1125.3,910.3 1128.8,909.9 1131.5,911.4C1134.2,912.8 1137.3,916.8 1140.3,918.9C1143.2,920.9 1145.9,923.9 1149.0,923.9C1152.2,923.9 1155.7,920.3 1159.0,918.9C1162.4,917.4 1165.5,915.6 1169.0,915.1C1172.6,914.6 1176.8,916.4 1180.3,915.7C1183.9,915.1 1186.4,913.0 1190.3,911.4C1194.3,909.7 1200.1,905.9 1204.1,905.7C1208.0,905.5 1210.8,907.7 1214.1,910.1C1217.4,912.5 1221.4,918.1 1224.1,920.1C1226.8,922.1 1227.9,922.8 1230.4,922.0C1232.9,921.2 1236.0,917.3 1239.1,915.1C1242.2,912.9 1245.8,909.3 1249.1,908.8C1252.5,908.4 1256.0,910.9 1259.1,912.6C1262.3,914.3 1265.0,918.9 1267.9,918.9C1270.8,918.9 1273.1,915.3 1276.7,912.6C1280.2,909.9 1285.0,903.4 1289.2,902.6C1293.3,901.8 1297.5,905.0 1301.7,907.6C1305.8,910.2 1310.4,917.2 1314.2,918.2C1317.9,919.3 1320.4,916.7 1324.2,913.9C1328.0,911.0 1332.5,906.1 1336.7,901.3C1340.9,896.5 1345.3,890.7 1349.2,885.1C1353.1,879.4 1357.1,870.7 1360.0,867.3C1362.9,863.9 1364.3,865.0 1366.9,864.7C1369.5,864.4 1372.4,864.0 1375.5,865.6C1378.7,867.2 1382.7,871.3 1385.9,874.2C1389.1,877.1 1391.4,880.0 1394.5,882.8C1397.7,885.7 1401.7,888.6 1404.9,891.5C1408.0,894.4 1410.6,896.7 1413.5,900.1C1416.4,903.6 1419.0,907.6 1422.1,912.2C1425.3,916.8 1429.0,923.4 1432.5,927.7C1435.9,932.0 1439.7,936.9 1442.8,938.1C1446.0,939.2 1448.9,937.5 1451.5,934.6C1454.1,931.7 1456.1,927.1 1458.4,920.8C1460.7,914.5 1463.0,905.9 1465.3,896.7C1467.6,887.4 1469.6,875.9 1472.2,865.6C1474.8,855.2 1478.4,841.2 1480.8,834.5C1483.2,827.9 1483.2,832.7 1486.6,825.7C1490.0,818.7 1496.2,801.6 1501.1,792.6C1505.9,783.6 1511.1,779.5 1515.6,771.9C1520.1,764.3 1523.9,754.2 1528.0,747.0C1532.1,739.8 1536.9,731.5 1540.0,728.7C1543.1,725.9 1544.6,728.6 1546.9,730.0C1549.2,731.4 1551.5,733.9 1553.8,736.9C1556.1,739.9 1558.4,744.3 1560.7,748.0C1563.0,751.7 1565.1,755.3 1567.6,759.0C1570.1,762.7 1573.1,766.4 1575.9,770.1C1578.7,773.8 1581.4,777.2 1584.2,781.1C1587.0,785.0 1590.0,789.1 1592.5,793.5C1595.0,797.9 1597.1,802.5 1599.4,807.3C1601.7,812.1 1603.8,817.7 1606.3,822.5C1608.8,827.3 1612.2,832.1 1614.5,836.3C1616.8,840.4 1617.6,843.8 1620.1,847.4C1622.6,851.0 1626.5,854.4 1629.7,857.7C1632.9,861.0 1635.9,863.1 1639.0,867.0C1642.1,870.9 1645.3,876.1 1648.4,881.0C1651.5,885.9 1654.6,892.4 1657.7,896.5C1660.8,900.6 1663.9,904.6 1667.0,905.9C1670.1,907.2 1673.2,906.1 1676.3,904.3C1679.4,902.5 1682.6,898.6 1685.7,895.0C1688.8,891.4 1691.9,886.1 1695.0,882.5C1698.1,878.9 1701.2,875.0 1704.3,873.2C1707.4,871.4 1711.0,871.8 1713.6,871.7C1716.2,871.6 1717.7,872.1 1720.0,872.4C1722.3,872.7 1723.8,871.8 1727.2,873.7C1730.6,875.5 1736.1,879.2 1740.6,883.7C1745.1,888.2 1749.8,896.3 1754.0,900.5C1758.2,904.7 1761.3,907.6 1765.8,908.9C1770.2,910.1 1776.7,906.6 1780.8,908.0C1785.0,909.4 1787.3,912.9 1790.9,917.3C1794.5,921.6 1798.5,929.4 1802.6,934.0C1806.8,938.6 1811.3,943.8 1816.1,944.9C1820.8,946.0 1826.4,940.9 1831.1,940.7C1835.9,940.6 1840.1,943.0 1844.6,944.1C1849.0,945.2 1852.9,948.3 1858.0,947.4C1863.0,946.6 1869.2,941.7 1874.7,939.0C1880.3,936.4 1885.9,931.8 1891.5,931.5C1897.1,931.2 1903.2,935.9 1908.3,937.4C1913.3,938.9 1916.7,940.7 1921.7,940.4C1926.7,940.1 1933.4,935.4 1938.5,935.7C1943.5,936.0 1947.1,940.0 1951.9,942.4C1956.6,944.8 1964.4,948.7 1967.0,949.9" fill="none" stroke="#f06400" stroke-width="2.3" stroke-linejoin="round"/>
<path d="M1124.0,896.3C1125.7,896.5 1130.3,896.9 1134.0,897.6C1137.8,898.3 1142.4,901.8 1146.5,900.7C1150.7,899.7 1154.7,894.9 1159.0,891.3C1163.4,887.8 1168.6,880.6 1172.8,879.4C1177.0,878.3 1180.5,882.7 1184.1,884.4C1187.6,886.2 1190.5,888.7 1194.1,890.1C1197.6,891.4 1201.2,891.5 1205.3,892.6C1209.5,893.6 1214.9,895.3 1219.1,896.3C1223.3,897.4 1226.4,898.7 1230.4,898.8C1234.3,898.9 1238.7,898.4 1242.9,897.0C1247.0,895.5 1252.3,891.4 1255.4,890.1C1258.5,888.7 1259.1,888.2 1261.6,888.8C1264.1,889.5 1267.3,892.5 1270.4,893.8C1273.5,895.2 1276.7,896.8 1280.4,897.0C1284.2,897.2 1288.7,895.8 1292.9,895.1C1297.1,894.4 1301.7,892.8 1305.4,892.6C1309.2,892.4 1312.3,895.1 1315.4,893.8C1318.6,892.6 1320.7,888.6 1324.2,885.1C1327.7,881.5 1332.5,876.9 1336.7,872.6C1340.9,868.2 1345.1,863.4 1349.2,858.8C1353.4,854.2 1358.5,848.4 1361.7,845.0C1365.0,841.7 1366.0,839.7 1368.6,838.8C1371.2,837.9 1374.4,838.1 1377.3,839.7C1380.1,841.3 1383.0,843.4 1385.9,848.3C1388.8,853.2 1391.6,864.0 1394.5,869.0C1397.4,874.1 1400.3,877.1 1403.1,878.5C1406.0,880.0 1408.9,879.2 1411.8,877.7C1414.7,876.1 1417.8,871.5 1420.4,869.0C1423.0,866.6 1424.7,863.0 1427.3,863.0C1429.9,863.0 1432.8,866.6 1435.9,869.0C1439.1,871.5 1443.4,876.5 1446.3,877.7C1449.2,878.8 1450.9,878.8 1453.2,875.9C1455.5,873.1 1457.8,865.9 1460.1,860.4C1462.4,854.9 1464.7,848.9 1467.0,843.1C1469.3,837.4 1470.6,834.0 1473.9,825.9C1477.2,817.8 1482.0,808.5 1486.6,794.7C1491.1,780.8 1496.2,757.0 1501.1,742.9C1505.9,728.7 1510.4,717.3 1515.6,709.7C1520.8,702.1 1527.3,699.0 1532.2,697.3C1537.0,695.6 1541.4,698.0 1544.6,699.4C1547.7,700.7 1548.3,702.4 1551.0,705.2C1553.7,708.0 1557.7,712.5 1560.7,716.2C1563.7,719.9 1566.9,724.5 1569.0,727.3C1571.1,730.1 1571.5,730.0 1573.1,732.8C1574.7,735.5 1577.3,740.8 1578.7,743.8C1580.1,746.8 1580.2,748.2 1581.4,750.7C1582.6,753.2 1583.8,754.9 1585.6,759.0C1587.4,763.1 1590.2,770.5 1592.5,775.6C1594.8,780.7 1597.1,784.8 1599.4,789.4C1601.7,794.0 1603.8,798.6 1606.3,803.2C1608.8,807.8 1611.8,812.9 1614.5,817.0C1617.2,821.1 1620.2,824.8 1622.8,828.0C1625.4,831.2 1627.3,832.1 1630.0,836.3C1632.7,840.5 1635.7,849.4 1639.0,853.0C1642.3,856.6 1646.5,857.4 1649.9,857.7C1653.3,858.0 1656.4,854.4 1659.2,854.6C1662.0,854.9 1664.2,856.9 1667.0,859.2C1669.8,861.5 1673.2,867.3 1676.3,868.6C1679.4,869.9 1682.6,869.1 1685.7,867.0C1688.8,864.9 1691.9,859.2 1695.0,856.1C1698.1,853.0 1701.5,850.1 1704.3,848.4C1707.1,846.7 1709.5,846.3 1712.1,846.0C1714.7,845.7 1717.5,846.9 1720.0,846.8C1722.5,846.7 1723.8,845.6 1727.2,845.2C1730.6,844.7 1736.1,842.1 1740.6,844.3C1745.1,846.5 1749.5,853.4 1754.0,858.6C1758.5,863.7 1761.8,874.2 1767.4,875.3C1773.0,876.4 1781.4,864.2 1787.6,865.3C1793.7,866.4 1798.2,878.4 1804.3,882.0C1810.5,885.7 1818.3,883.2 1824.4,887.1C1830.6,891.0 1836.2,901.6 1841.2,905.5C1846.2,909.4 1849.0,909.6 1854.6,910.5C1860.2,911.5 1868.6,910.8 1874.7,911.4C1880.9,911.9 1885.9,912.9 1891.5,913.9C1897.1,914.9 1902.7,916.4 1908.3,917.3C1913.9,918.1 1919.5,920.0 1925.0,918.9C1930.6,917.8 1936.8,913.5 1941.8,910.5C1946.8,907.6 1951.0,902.6 1955.2,901.3C1959.4,900.1 1965.0,902.7 1967.0,903.0L1967.0,954.1C1964.2,954.1 1955.2,952.7 1950.2,954.1C1945.2,955.5 1940.1,959.2 1936.8,962.5C1933.4,965.9 1932.6,970.6 1930.1,974.3C1927.6,977.9 1924.8,984.3 1921.7,984.3C1918.6,984.3 1915.3,977.1 1911.6,974.3C1908.0,971.5 1904.6,967.8 1899.9,967.6C1895.1,967.3 1888.7,971.5 1883.1,972.6C1877.5,973.7 1871.9,975.1 1866.4,974.3C1860.8,973.4 1855.2,970.1 1849.6,967.6C1844.0,965.0 1838.4,961.4 1832.8,959.2C1827.2,956.9 1821.6,957.5 1816.1,954.1C1810.5,950.8 1804.9,943.0 1799.3,939.0C1793.7,935.1 1788.1,933.2 1782.5,930.7C1776.9,928.1 1771.3,926.2 1765.8,924.0C1760.2,921.7 1754.6,921.2 1749.0,917.3C1743.4,913.3 1737.1,905.0 1732.2,900.5C1727.4,896.0 1724.1,891.7 1720.0,890.3C1715.9,888.9 1711.1,890.6 1707.4,891.9C1703.8,893.2 1701.2,896.0 1698.1,898.1C1695.0,900.2 1691.9,901.4 1688.8,904.3C1685.7,907.1 1682.5,913.1 1679.4,915.2C1676.3,917.3 1673.2,917.2 1670.1,916.7C1667.0,916.2 1664.2,913.1 1660.8,912.1C1657.4,911.1 1653.0,910.2 1649.9,910.5C1646.8,910.8 1644.5,913.9 1642.2,913.6C1639.9,913.4 1638.2,912.1 1635.9,909.0C1633.6,905.9 1630.8,899.9 1628.2,895.0C1625.6,890.1 1623.2,884.6 1620.4,879.4C1617.6,874.2 1613.9,868.5 1611.1,863.9C1608.2,859.2 1605.2,853.8 1603.3,851.5C1601.3,849.2 1600.8,851.4 1599.4,850.0C1598.1,848.6 1597.3,846.9 1595.2,843.2C1593.1,839.5 1589.4,832.8 1586.9,828.0C1584.4,823.2 1582.3,818.1 1580.0,814.2C1577.7,810.3 1575.6,808.1 1573.1,804.6C1570.6,801.1 1567.5,796.5 1564.8,793.5C1562.0,790.5 1559.3,788.9 1556.6,786.6C1553.8,784.3 1551.1,781.1 1548.3,779.7C1545.5,778.3 1543.4,776.8 1540.0,778.3C1536.6,779.8 1532.1,784.3 1528.0,788.4C1523.9,792.6 1519.7,796.7 1515.6,802.9C1511.4,809.2 1507.3,817.8 1503.1,825.7C1499.0,833.7 1493.3,845.7 1490.7,850.6C1488.1,855.5 1489.4,851.0 1487.7,855.2C1486.1,859.5 1483.4,869.0 1480.8,875.9C1478.2,882.8 1474.8,890.9 1472.2,896.7C1469.6,902.4 1467.9,905.9 1465.3,910.5C1462.7,915.1 1459.5,921.4 1456.7,924.3C1453.8,927.1 1451.2,928.3 1448.0,927.7C1444.9,927.1 1440.8,923.4 1437.7,920.8C1434.5,918.2 1432.2,913.9 1429.0,912.2C1425.9,910.5 1421.8,909.3 1418.7,910.5C1415.5,911.6 1412.9,916.5 1410.1,919.1C1407.2,921.7 1404.3,926.3 1401.4,926.0C1398.5,925.7 1396.0,921.7 1392.8,917.4C1389.6,913.0 1385.9,904.1 1382.4,900.1C1379.0,896.1 1375.8,894.2 1372.1,893.2C1368.3,892.2 1363.8,890.8 1360.0,894.1C1356.2,897.3 1353.1,908.1 1349.2,912.6C1345.3,917.2 1340.9,918.7 1336.7,921.4C1332.5,924.1 1328.4,926.6 1324.2,928.9C1320.0,931.2 1315.4,933.0 1311.7,935.1C1307.9,937.2 1305.4,939.5 1301.7,941.4C1297.9,943.3 1293.1,946.2 1289.2,946.4C1285.2,946.6 1281.2,943.9 1277.9,942.6C1274.6,941.4 1272.3,939.8 1269.1,938.9C1266.0,937.9 1262.1,937.0 1259.1,937.0C1256.2,937.0 1254.5,937.9 1251.6,938.9C1248.7,939.8 1245.0,942.2 1241.6,942.6C1238.3,943.0 1234.9,941.6 1231.6,941.4C1228.3,941.2 1224.9,941.2 1221.6,941.4C1218.3,941.6 1214.9,942.0 1211.6,942.6C1208.3,943.3 1205.1,944.9 1201.6,945.1C1198.0,945.3 1193.9,944.7 1190.3,943.9C1186.8,943.0 1184.1,941.0 1180.3,940.1C1176.6,939.3 1172.0,938.7 1167.8,938.9C1163.6,939.1 1159.2,940.3 1155.3,941.4C1151.3,942.4 1147.6,943.7 1144.0,945.1C1140.5,946.6 1137.3,948.9 1134.0,950.1C1130.7,951.4 1125.7,952.2 1124.0,952.6Z" fill="rgb(0,85,107)" fill-opacity="0.5"/>
<path d="M1124.0,924.5C1125.7,924.5 1130.5,925.2 1134.0,924.5C1137.6,923.8 1141.1,922.1 1145.3,920.1C1149.4,918.1 1154.4,914.6 1159.0,912.6C1163.6,910.6 1168.6,908.4 1172.8,908.2C1177.0,908.0 1180.5,909.9 1184.1,911.4C1187.6,912.8 1190.7,915.8 1194.1,917.0C1197.4,918.1 1200.1,918.4 1204.1,918.2C1208.0,918.0 1213.5,915.5 1217.8,915.7C1222.2,915.9 1226.8,918.7 1230.4,919.5C1233.9,920.3 1236.0,921.2 1239.1,920.7C1242.2,920.3 1245.4,918.4 1249.1,917.0C1252.9,915.5 1257.9,912.2 1261.6,912.0C1265.4,911.8 1268.5,914.3 1271.6,915.7C1274.8,917.2 1277.5,919.6 1280.4,920.7C1283.3,921.9 1285.6,923.1 1289.2,922.6C1292.7,922.1 1297.9,919.2 1301.7,917.6C1305.4,916.0 1307.9,914.9 1311.7,913.2C1315.4,911.6 1320.0,910.2 1324.2,907.6C1328.4,905.0 1332.5,901.3 1336.7,897.6C1340.9,893.8 1345.3,889.5 1349.2,885.1C1353.1,880.6 1357.1,874.6 1360.0,870.8C1362.9,866.9 1364.3,864.3 1366.9,862.1C1369.5,860.0 1372.7,857.2 1375.5,857.8C1378.4,858.4 1381.3,861.4 1384.2,865.6C1387.0,869.8 1389.9,877.2 1392.8,882.8C1395.7,888.5 1398.8,896.1 1401.4,899.2C1404.0,902.4 1406.0,902.5 1408.3,901.8C1410.6,901.1 1412.6,897.7 1415.2,894.9C1417.8,892.2 1421.0,886.6 1423.9,885.4C1426.7,884.3 1429.6,885.9 1432.5,888.0C1435.4,890.2 1438.5,895.8 1441.1,898.4C1443.7,901.0 1445.4,903.6 1448.0,903.6C1450.6,903.6 1453.8,901.8 1456.7,898.4C1459.5,894.9 1462.4,888.9 1465.3,882.8C1468.2,876.8 1470.7,870.2 1473.9,862.1C1477.1,854.1 1480.8,845.4 1484.3,834.5C1487.8,823.6 1491.0,807.9 1494.9,796.7C1498.7,785.6 1503.1,775.7 1507.3,767.7C1511.4,759.8 1514.9,754.0 1519.7,749.1C1524.6,744.2 1532.9,740.1 1536.3,738.3C1539.7,736.5 1538.0,737.6 1540.0,738.3C1542.0,739.0 1545.3,740.2 1548.3,742.5C1551.3,744.8 1554.7,748.6 1557.9,752.1C1561.1,755.6 1564.8,759.8 1567.6,763.2C1570.4,766.7 1572.2,768.9 1574.5,772.8C1576.8,776.7 1579.1,782.0 1581.4,786.6C1583.7,791.2 1586.0,795.8 1588.3,800.4C1590.6,805.0 1592.9,810.1 1595.2,814.2C1597.5,818.4 1599.8,822.1 1602.1,825.3C1604.4,828.5 1606.7,830.4 1609.0,833.6C1611.3,836.8 1613.7,841.1 1615.9,844.6C1618.1,848.1 1619.7,850.4 1622.0,854.6C1624.3,858.9 1627.1,865.5 1629.7,870.1C1632.3,874.8 1634.9,879.6 1637.5,882.5C1640.1,885.4 1642.5,887.2 1645.3,887.2C1648.1,887.2 1651.8,883.0 1654.6,882.5C1657.4,882.0 1659.7,882.8 1662.3,884.1C1664.9,885.4 1667.2,888.5 1670.1,890.3C1672.9,892.1 1676.3,895.2 1679.4,895.0C1682.5,894.8 1685.7,891.9 1688.8,888.8C1691.9,885.7 1695.0,879.5 1698.1,876.3C1701.2,873.0 1703.8,870.6 1707.4,869.3C1711.1,868.0 1715.0,868.7 1720.0,868.6C1725.0,868.5 1732.4,866.9 1737.3,868.6C1742.1,870.3 1745.1,874.8 1749.0,878.7C1752.9,882.6 1756.5,888.7 1760.7,892.1C1764.9,895.5 1769.9,897.8 1774.1,898.8C1778.3,899.8 1781.7,896.8 1785.9,898.0C1790.1,899.1 1794.8,903.4 1799.3,905.5C1803.8,907.6 1808.5,909.4 1812.7,910.5C1816.9,911.7 1820.8,910.5 1824.4,912.2C1828.1,913.9 1830.9,916.7 1834.5,920.6C1838.1,924.5 1842.3,931.8 1846.2,935.7C1850.1,939.6 1853.2,942.8 1858.0,944.1C1862.7,945.3 1869.2,943.2 1874.7,943.2C1880.3,943.2 1885.9,942.8 1891.5,944.1C1897.1,945.3 1903.2,948.5 1908.3,950.8C1913.3,953.0 1917.5,958.3 1921.7,957.5C1925.9,956.7 1929.2,950.8 1933.4,945.8C1937.6,940.7 1943.2,930.8 1946.8,927.3C1950.5,923.8 1951.9,924.7 1955.2,924.8C1958.6,924.9 1965.0,927.6 1967.0,928.1" fill="none" stroke="#006a68" stroke-width="2.6" stroke-linejoin="round"/>
</g>
<path d="M1124.5,617.7V1088.1H1968.5" fill="none" stroke="#858585" stroke-width="1.05"/>
<text x="1022.0" y="616.0" font-family="DejaVu Sans, sans-serif" font-size="39.5">d</text>
<text transform="translate(1044.3,617.8) scale(1.15,1)" font-family="DejaVu Sans, sans-serif" font-size="41">)</text>
<text x="1124.8" y="608.5" font-weight="bold" font-size="27.2">N1 TRF (onsets)</text>
<text x="1546.5" y="1145.1" text-anchor="middle" font-size="27.1">Time [ms]</text>
<text transform="translate(1087.6,853.2) rotate(-90)" text-anchor="middle" font-size="27">Amplitude [a.u.]</text>
<path d="M1195.9,988.6h23" stroke="#f06400" stroke-width="2.8" stroke-linecap="round"/>
<path d="M1195.9,1009.2h23" stroke="#006a5c" stroke-width="2.8" stroke-linecap="round"/>
<text x="1221.3" y="995.0" font-size="16">low</text>
<text x="1221.3" y="1015.6" font-size="16">high</text>
<circle cx="1228.3" cy="690.5" r="53.6" fill="url(#tgd)"/><circle cx="1228.3" cy="690.5" r="53.6" fill="url(#ovd)"/><g clip-path="url(#cpd)" fill="none" stroke="#222" stroke-opacity="0.55" stroke-width="0.8"><ellipse cx="1228.8" cy="693.5" rx="19.5" ry="14.3"/><ellipse cx="1228.8" cy="692.5" rx="29.0" ry="22.0"/><ellipse cx="1228.8" cy="691.0" rx="36.0" ry="30.0"/><ellipse cx="1228.8" cy="689.5" rx="43.0" ry="39.0"/><ellipse cx="1228.8" cy="688.5" rx="50.5" ry="47.0"/></g><g fill="none" stroke="#000" stroke-width="2.0" stroke-linejoin="round"><circle cx="1228.3" cy="690.0" r="49.2"/><path d="M1219.1,641.1 L1226.3,633.5 Q1228.3,631.7 1230.3,633.5 L1237.5,641.1"/><path d="M1179.3,679.5 C1176.8,677.0 1174.3,678.0 1174.3,681.0 L1174.3,699.5 C1174.1,703.5 1177.5,704.5 1179.5,702.5"/><path d="M1277.3,679.5 C1279.8,677.0 1282.3,678.0 1282.3,681.0 L1282.3,699.5 C1282.5,703.5 1279.1,704.5 1277.1,702.5"/></g><g fill="#000"><circle cx="1228.3" cy="654.5" r="1.5"/><circle cx="1205.3" cy="666.0" r="1.5"/><circle cx="1251.3" cy="666.0" r="1.5"/><circle cx="1228.3" cy="668.0" r="1.5"/><circle cx="1182.3" cy="662.5" r="1.5"/><circle cx="1274.3" cy="662.5" r="1.5"/><circle cx="1211.3" cy="641.5" r="1.5"/><circle cx="1245.3" cy="641.5" r="1.5"/><circle cx="1203.3" cy="694.5" r="1.5"/><circle cx="1253.3" cy="694.5" r="1.5"/><circle cx="1228.3" cy="693.5" r="1.5"/><circle cx="1228.3" cy="704.5" r="1.5"/><circle cx="1209.8" cy="717.5" r="1.5"/><circle cx="1246.8" cy="717.5" r="1.5"/><circle cx="1228.3" cy="715.0" r="1.5"/><circle cx="1228.3" cy="725.5" r="1.5"/><circle cx="1193.3" cy="725.8" r="1.5"/><circle cx="1263.3" cy="725.8" r="1.5"/><circle cx="1216.3" cy="736.0" r="1.5"/><circle cx="1240.3" cy="736.0" r="1.5"/><circle cx="1176.3" cy="699.5" r="1.5"/><circle cx="1280.3" cy="699.5" r="1.5"/></g><rect x="1295.0" y="632.0" width="11.3" height="116.0" fill="url(#jet)"/><g font-size="7" fill="#333"><text x="1308.8" y="636.8">0.15</text><text x="1308.8" y="655.5">0.1</text><text x="1308.8" y="674.5">0.05</text><text x="1308.8" y="693.3">0</text><text x="1308.8" y="712.0">-0.05</text><text x="1308.8" y="731.0">-0.1</text><text x="1308.8" y="749.5">-0.15</text></g><text transform="translate(1324.5,690.0) rotate(90)" text-anchor="middle" font-size="16">[a.u.]</text>
<rect x="1746.2" y="583.2" width="245.5" height="219.8" fill="#fff"/><path d="M1757.5,583.2V803.0M1837.0,583.2V803.0M1916.5,583.2V803.0M1746.2,597.5H1991.8M1746.2,652.5H1991.8M1746.2,707.5H1991.8M1746.2,762.0H1991.8" stroke="#ebebeb" stroke-width="1.1"/><path d="M1765.5,632.5 L1773.5,757.6 L1781.4,720.1 L1789.4,705.1 L1797.4,718.9 L1805.3,722.6 L1813.3,665.1 L1821.2,696.3 L1829.2,700.1 L1837.1,745.1 L1845.1,753.9 L1853.1,673.8 L1861.0,766.4 L1869.0,767.6 L1876.9,726.4 L1884.9,722.6 L1892.8,726.4 L1900.8,637.5 L1908.7,697.6 L1916.7,710.1 L1924.7,750.1 L1932.6,716.4 L1940.6,722.6 L1948.5,695.1 L1956.5,593.8 L1964.4,682.6 L1972.4,655.1 L1980.3,696.3" fill="none" stroke="#e69f00" stroke-width="1.4" stroke-dasharray="6,3.6"/><path d="M1765.5,753.9 L1773.5,687.6 L1781.4,717.6 L1789.4,703.8 L1797.4,657.6 L1805.3,687.6 L1813.3,745.1 L1821.2,718.9 L1829.2,703.8 L1837.1,700.1 L1845.1,685.1 L1853.1,791.4 L1861.0,693.8 L1869.0,705.1 L1876.9,697.6 L1884.9,738.9 L1892.8,695.1 L1900.8,707.6 L1908.7,710.1 L1916.7,695.1 L1924.7,655.1 L1932.6,657.6 L1940.6,625.0 L1948.5,725.1 L1956.5,702.6 L1964.4,685.1 L1972.4,672.6 L1980.3,733.9" fill="none" stroke="#1f6472" stroke-width="1.4" stroke-dasharray="6,3.6"/><path d="M1757.6,723.4 L1980.2,695.8" stroke="#e69f00" stroke-width="1.5"/><path d="M1757.6,715.1 L1980.2,687.6" stroke="#1a5f6e" stroke-width="1.5"/><rect x="1746.2" y="583.2" width="245.5" height="219.8" fill="none" stroke="#333" stroke-width="1.2"/><path d="M1757.5,803.0v3M1837.0,803.0v3M1916.5,803.0v3M1746.2,597.5h-3M1746.2,652.5h-3M1746.2,707.5h-3M1746.2,762.0h-3" stroke="#333" stroke-width="1.1"/><g font-size="24" fill="#4d4d4d"><text x="1757.5" y="827.5" text-anchor="middle">0</text><text x="1837.0" y="827.5" text-anchor="middle">10</text><text x="1916.5" y="827.5" text-anchor="middle">20</text><text x="1741.2" y="606.1" text-anchor="end">5.0</text><text x="1741.2" y="661.1" text-anchor="end">2.5</text><text x="1741.2" y="716.1" text-anchor="end">0.0</text><text x="1741.2" y="770.6" text-anchor="end">-2.5</text></g><text x="1869.0" y="850.3" text-anchor="middle" font-size="24.5">Block number</text><text transform="translate(1692.5,693.1) rotate(-90)" text-anchor="middle" font-size="24.5">Amplitude [a.u.]</text>
</svg></body></html>
